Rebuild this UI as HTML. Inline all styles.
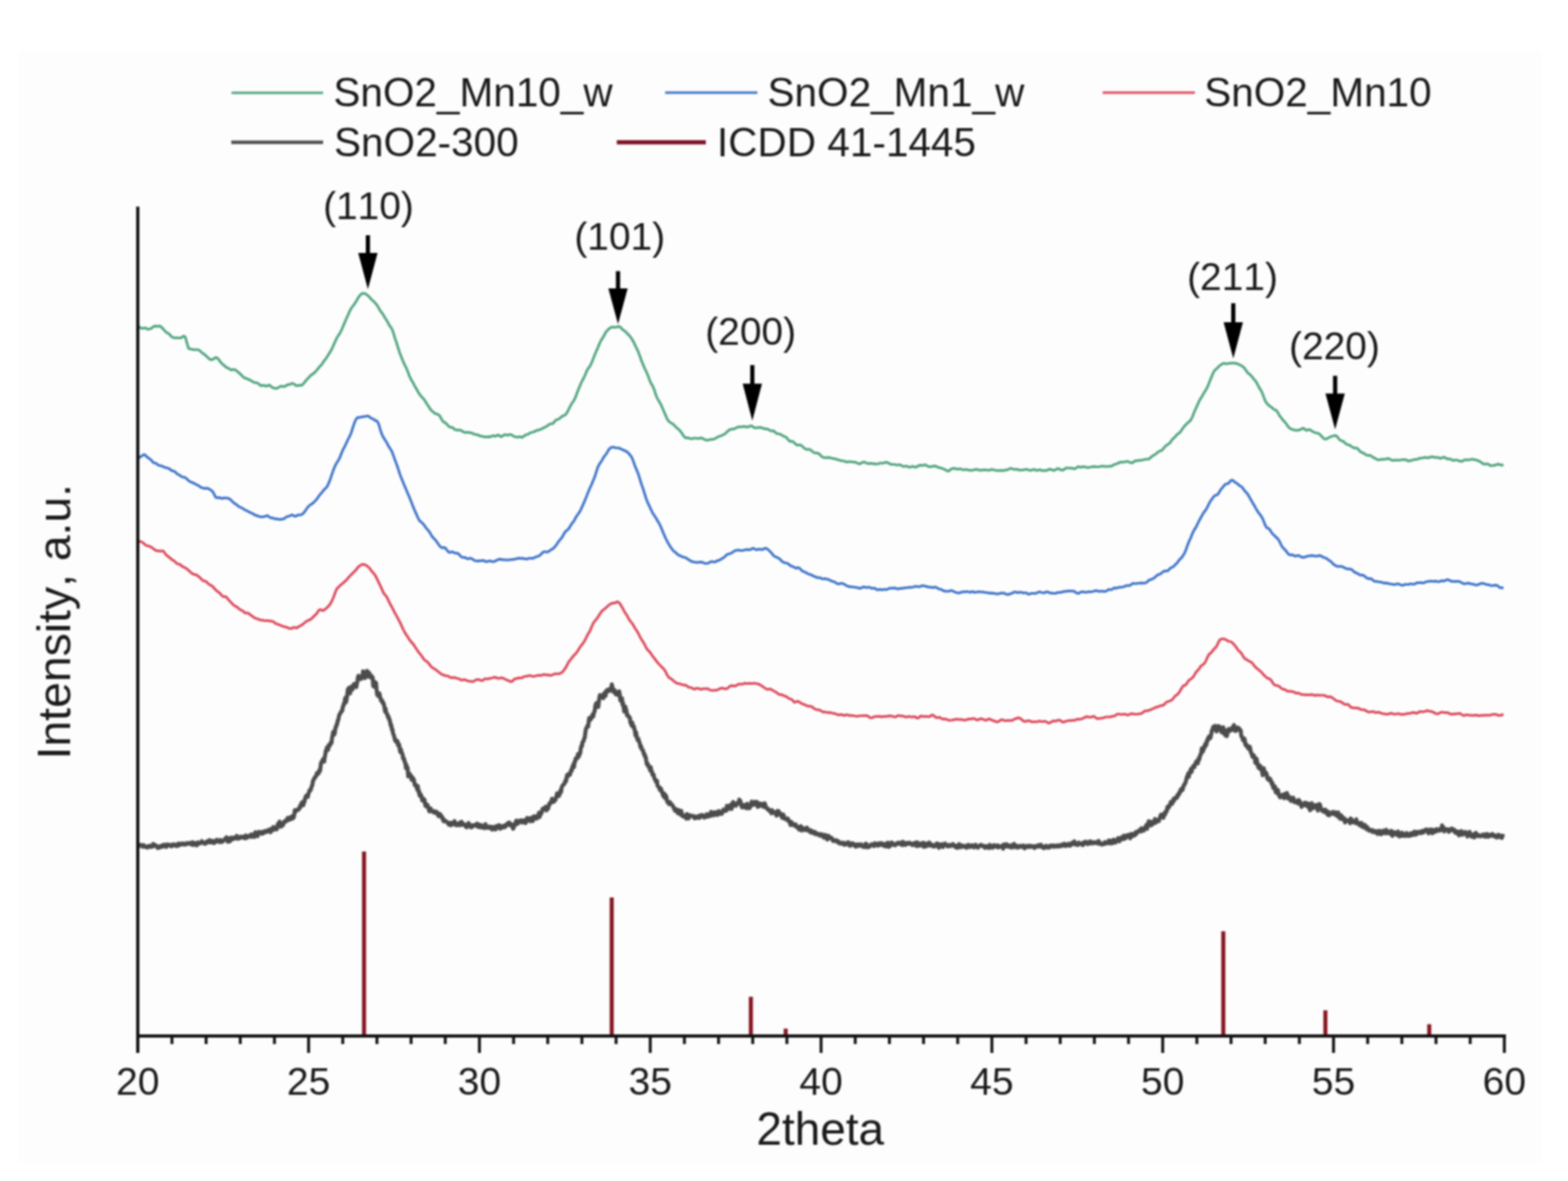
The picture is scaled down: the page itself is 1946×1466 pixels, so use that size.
<!DOCTYPE html>
<html><head><meta charset="utf-8"><title>XRD patterns SnO2</title>
<style>
html,body{margin:0;padding:0;background:#fff;}
svg{display:block;filter:blur(1px);}
.t{font-family:"Liberation Sans",Arial,sans-serif;fill:#1a1a1a;font-kerning:none;}
</style></head>
<body>
<svg width="1946" height="1466" viewBox="0 0 1946 1466">
<rect x="0" y="0" width="1946" height="1466" fill="#ffffff"/>
<rect x="23" y="65" width="1890" height="1379" fill="#fdfdfd"/>
<path d="M172.0 1048.7 L172.7 1048.7 L173.4 1049.9 L174.1 1049.4 L174.8 1049.8 L175.5 1048.8 L176.2 1049.9 L176.9 1051.0 L177.6 1049.7 L178.3 1049.1 L179.0 1050.1 L179.7 1050.4 L180.4 1051.5 L181.1 1051.1 L181.8 1051.7 L182.5 1051.9 L183.2 1050.6 L183.9 1051.8 L184.6 1050.7 L185.3 1050.8 L186.0 1049.8 L186.7 1050.7 L187.4 1050.1 L188.1 1051.3 L188.8 1050.9 L189.5 1049.7 L190.2 1047.6 L190.9 1048.6 L191.6 1049.9 L192.3 1050.2 L193.0 1049.1 L193.7 1050.2 L194.4 1050.1 L195.1 1050.9 L195.8 1052.7 L196.5 1051.6 L197.2 1051.7 L197.9 1052.1 L198.6 1050.4 L199.3 1051.3 L200.0 1051.4 L200.7 1050.9 L201.4 1049.4 L202.1 1049.7 L202.8 1050.5 L203.5 1048.5 L204.2 1050.0 L204.9 1049.2 L205.6 1048.8 L206.3 1051.3 L207.0 1050.8 L207.7 1048.2 L208.4 1048.8 L209.1 1048.7 L209.8 1048.8 L210.5 1049.5 L211.2 1049.4 L211.9 1049.9 L212.6 1050.7 L213.3 1048.5 L214.0 1049.4 L214.7 1048.6 L215.4 1049.5 L216.1 1048.2 L216.8 1048.9 L217.5 1048.7 L218.2 1049.6 L218.9 1050.1 L219.6 1048.3 L220.3 1048.6 L221.0 1049.8 L221.7 1047.0 L222.4 1048.7 L223.1 1048.6 L223.8 1048.7 L224.5 1048.2 L225.2 1047.3 L225.9 1047.7 L226.6 1047.0 L227.3 1048.1 L228.0 1047.8 L228.7 1048.2 L229.4 1048.5 L230.1 1047.3 L230.8 1046.8 L231.5 1047.5 L232.2 1047.8 L232.9 1046.5 L233.6 1047.1 L234.3 1046.9 L235.0 1047.1 L235.7 1046.7 L236.4 1046.1 L237.1 1048.3 L237.8 1047.4 L238.5 1048.3 L239.2 1045.5 L239.9 1048.9 L240.6 1046.7 L241.3 1046.5 L242.0 1047.5 L242.7 1047.0 L243.4 1047.7 L244.1 1049.4 L244.8 1046.1 L245.5 1045.6 L246.2 1047.0 L246.9 1047.3 L247.6 1047.2 L248.3 1046.3 L249.0 1046.5 L249.7 1046.0 L250.4 1044.1 L251.1 1045.4 L251.8 1046.1 L252.5 1045.8 L253.2 1047.0 L253.9 1046.1 L254.6 1047.5 L255.3 1046.4 L256.0 1046.0 L256.7 1044.6 L257.4 1046.0 L258.1 1044.2 L258.8 1045.4 L259.5 1045.5 L260.2 1042.9 L260.9 1045.2 L261.6 1043.6 L262.3 1045.8 L263.0 1044.1 L263.7 1045.7 L264.4 1045.4 L265.1 1043.8 L265.8 1046.5 L266.5 1046.0 L267.2 1044.6 L267.9 1043.7 L268.6 1043.5 L269.3 1042.5 L270.0 1044.3 L270.7 1043.7 L271.4 1045.0 L272.1 1044.1 L272.8 1044.2 L273.5 1042.7 L274.2 1045.4 L274.9 1043.5 L275.6 1044.7 L276.3 1044.7 L277.0 1043.5 L277.7 1043.0 L278.4 1042.1 L279.1 1042.2 L279.8 1042.2 L280.5 1039.9 L281.2 1039.4 L281.9 1040.5 L282.6 1044.9 L283.3 1042.4 L284.0 1042.4 L284.7 1043.3 L285.4 1044.3 L286.1 1039.9 L286.8 1041.0 L287.5 1040.5 L288.2 1039.8 L288.9 1041.8 L289.6 1040.6 L290.3 1040.3 L291.0 1039.6 L291.7 1040.8 L292.4 1039.5 L293.1 1039.4 L293.8 1037.5 L294.5 1038.5 L295.2 1041.1 L295.9 1039.8 L296.6 1039.9 L297.3 1040.6 L298.0 1039.3 L298.7 1038.6 L299.4 1039.4 L300.1 1039.4 L300.8 1039.3 L301.5 1038.7 L302.2 1039.9 L302.9 1040.2 L303.6 1040.6 L304.3 1038.6 L305.0 1037.2 L305.7 1039.4 L306.4 1040.1 L307.1 1037.9 L307.8 1038.5 L308.5 1038.1 L309.2 1038.1 L309.9 1038.1 L310.6 1036.5 L311.3 1038.9 L312.0 1035.8 L312.7 1037.2 L313.4 1036.8 L314.1 1037.0 L314.8 1038.9 L315.5 1039.0 L316.2 1034.9 L316.9 1033.1 L317.6 1035.2 L318.3 1033.9 L319.0 1036.9 L319.7 1037.9 L320.4 1034.1 L321.1 1032.6 L321.8 1034.3 L322.5 1033.4 L323.2 1033.9 L323.9 1034.7 L324.6 1034.8 L325.3 1032.6 L326.0 1034.8 L326.7 1033.4 L327.4 1032.8 L328.1 1033.4 L328.8 1031.5 L329.5 1031.9 L330.2 1031.5 L330.9 1032.8 L331.6 1031.4 L332.3 1030.5 L333.0 1030.8 L333.7 1030.2 L334.4 1031.5 L335.1 1032.0 L335.8 1033.0 L336.5 1028.9 L337.2 1031.3 L337.9 1030.1 L338.6 1028.5 L339.3 1026.5 L340.0 1028.3 L340.7 1029.8 L341.4 1028.1 L342.1 1027.2 L342.8 1027.4 L343.5 1029.3 L344.2 1026.0 L344.9 1022.7 L345.6 1023.1 L346.3 1021.7 L347.0 1019.8 L347.7 1023.3 L348.4 1026.3 L349.1 1026.0 L349.8 1024.8 L350.5 1024.6 L351.2 1024.3 L351.9 1021.7 L352.6 1020.0 L353.3 1019.7 L354.0 1019.0 L354.7 1019.8 L355.4 1019.2 L356.1 1018.3 L356.8 1015.6 L357.5 1016.3 L358.2 1015.1 L358.9 1017.8 L359.6 1015.7 L360.3 1017.0 L361.0 1016.2 L361.7 1013.6 L362.4 1015.3 L363.1 1016.0 L363.8 1013.1 L364.5 1014.9 L365.2 1011.2 L365.9 1005.8 L366.6 1007.7 L367.3 1006.7 L368.0 1006.2 L368.7 1005.1 L369.4 1005.5 L370.1 1004.8 L370.8 1004.9 L371.5 1003.2 L372.2 1000.7 L372.9 1002.0 L373.6 998.1 L374.3 997.0 L375.0 995.9 L375.7 999.0 L376.4 999.4 L377.1 996.0 L377.8 995.5 L378.5 991.2 L379.2 990.0 L379.9 987.8 L380.6 988.2 L381.3 987.4 L382.0 989.2 L382.7 985.3 L383.4 984.0 L384.1 981.1 L384.8 980.5 L385.5 980.8 L386.2 978.4 L386.9 976.0 L387.6 974.8 L388.3 969.8 L389.0 968.1 L389.7 967.4 L390.4 965.2 L391.1 965.3 L391.8 964.1 L392.5 962.5 L393.2 959.9 L393.9 961.5 L394.6 959.0 L395.3 960.2 L396.0 956.6 L396.7 957.8 L397.4 956.0 L398.1 949.3 L398.8 945.9 L399.5 945.5 L400.2 944.5 L400.9 942.3 L401.6 944.0 L402.3 945.4 L403.0 939.7 L403.7 936.9 L404.4 931.7 L405.1 932.0 L405.8 927.7 L406.5 927.8 L407.2 930.8 L407.9 925.0 L408.6 926.4 L409.3 925.6 L410.0 922.6 L410.7 921.5 L411.4 922.5 L412.1 916.0 L412.8 912.7 L413.5 908.6 L414.2 911.1 L414.9 911.8 L415.6 909.6 L416.3 903.1 L417.0 903.0 L417.7 899.3 L418.4 899.2 L419.1 894.6 L419.8 893.9 L420.5 889.8 L421.2 887.2 L421.9 886.2 L422.6 885.0 L423.3 883.4 L424.0 882.2 L424.7 882.4 L425.4 877.6 L426.1 876.3 L426.8 873.2 L427.5 873.7 L428.2 867.4 L428.9 865.8 L429.6 871.5 L430.3 866.8 L431.0 862.8 L431.7 855.7 L432.4 856.6 L433.1 853.7 L433.8 857.0 L434.5 860.7 L435.2 855.6 L435.9 852.5 L436.6 852.6 L437.3 856.1 L438.0 853.5 L438.7 849.7 L439.4 851.8 L440.1 848.7 L440.8 852.1 L441.5 851.1 L442.2 852.9 L442.9 848.3 L443.6 845.8 L444.3 840.2 L445.0 838.9 L445.7 840.7 L446.4 840.0 L447.1 839.7 L447.8 843.0 L448.5 839.6 L449.2 838.8 L449.9 840.6 L450.6 833.3 L451.3 838.9 L452.0 841.7 L452.7 841.8 L453.4 836.1 L454.1 837.8 L454.8 835.3 L455.5 832.7 L456.2 833.2 L456.9 840.0 L457.6 839.9 L458.3 835.1 L459.0 840.1 L459.7 838.0 L460.4 840.9 L461.1 838.9 L461.8 842.3 L462.5 840.9 L463.2 851.5 L463.9 846.4 L464.6 852.6 L465.3 846.5 L466.0 848.6 L466.7 847.6 L467.4 856.0 L468.1 862.4 L468.8 859.6 L469.5 864.2 L470.2 863.6 L470.9 860.7 L471.6 864.8 L472.3 867.0 L473.0 869.8 L473.7 868.8 L474.4 869.9 L475.1 873.0 L475.8 872.4 L476.5 874.6 L477.2 878.7 L477.9 883.0 L478.6 879.6 L479.3 885.3 L480.0 885.8 L480.7 886.4 L481.4 890.1 L482.1 889.2 L482.8 892.8 L483.5 893.0 L484.2 896.5 L484.9 900.6 L485.6 899.8 L486.3 905.5 L487.0 905.3 L487.7 909.7 L488.4 911.9 L489.1 913.5 L489.8 917.1 L490.5 919.3 L491.2 920.3 L491.9 918.7 L492.6 921.2 L493.3 919.9 L494.0 925.1 L494.7 923.4 L495.4 924.5 L496.1 930.0 L496.8 933.6 L497.5 930.0 L498.2 933.2 L498.9 934.8 L499.6 936.3 L500.3 941.8 L501.0 940.9 L501.7 942.9 L502.4 946.4 L503.1 946.8 L503.8 953.4 L504.5 949.7 L505.2 953.6 L505.9 953.1 L506.6 963.8 L507.3 960.1 L508.0 961.4 L508.7 960.7 L509.4 963.2 L510.1 963.1 L510.8 968.0 L511.5 964.7 L512.2 965.2 L512.9 967.4 L513.6 967.6 L514.3 972.2 L515.0 975.0 L515.7 973.8 L516.4 974.5 L517.1 976.6 L517.8 980.0 L518.5 975.6 L519.2 982.4 L519.9 981.4 L520.6 987.3 L521.3 984.8 L522.0 988.6 L522.7 987.1 L523.4 990.3 L524.1 993.7 L524.8 993.6 L525.5 991.3 L526.2 992.4 L526.9 993.0 L527.6 998.6 L528.3 1000.6 L529.0 1001.0 L529.7 1000.1 L530.4 998.9 L531.1 1001.0 L531.8 1003.1 L532.5 1006.2 L533.2 1007.2 L533.9 1003.5 L534.6 1003.7 L535.3 1006.2 L536.0 1006.4 L536.7 1006.7 L537.4 1007.8 L538.1 1007.0 L538.8 1008.6 L539.5 1007.1 L540.2 1008.9 L540.9 1008.3 L541.6 1009.0 L542.3 1008.0 L543.0 1010.8 L543.7 1011.2 L544.4 1013.2 L545.1 1011.7 L545.8 1010.3 L546.5 1011.7 L547.2 1011.7 L547.9 1013.4 L548.6 1015.4 L549.3 1014.8 L550.0 1018.3 L550.7 1019.4 L551.4 1018.3 L552.1 1018.2 L552.8 1019.1 L553.5 1019.6 L554.2 1020.3 L554.9 1020.6 L555.6 1021.5 L556.3 1021.8 L557.0 1023.7 L557.7 1022.8 L558.4 1021.3 L559.1 1022.0 L559.8 1024.4 L560.5 1021.5 L561.2 1023.4 L561.9 1022.8 L562.6 1022.7 L563.3 1021.2 L564.0 1019.2 L564.7 1021.1 L565.4 1023.7 L566.1 1024.4 L566.8 1024.2 L567.5 1022.5 L568.2 1024.0 L568.9 1024.4 L569.6 1023.4 L570.3 1023.0 L571.0 1020.7 L571.7 1024.3 L572.4 1023.6 L573.1 1020.1 L573.8 1023.5 L574.5 1022.7 L575.2 1023.2 L575.9 1023.3 L576.6 1024.6 L577.3 1023.6 L578.0 1025.8 L578.7 1026.8 L579.4 1026.9 L580.1 1024.0 L580.8 1023.9 L581.5 1021.6 L582.2 1022.8 L582.9 1025.3 L583.6 1026.1 L584.3 1025.8 L585.0 1027.1 L585.7 1024.6 L586.4 1026.0 L587.1 1025.6 L587.8 1024.4 L588.5 1024.9 L589.2 1024.1 L589.9 1024.1 L590.6 1024.4 L591.3 1023.3 L592.0 1022.5 L592.7 1026.2 L593.4 1024.2 L594.1 1025.5 L594.8 1023.7 L595.5 1027.0 L596.2 1026.2 L596.9 1025.0 L597.6 1024.4 L598.3 1026.2 L599.0 1027.3 L599.7 1025.5 L600.4 1025.5 L601.1 1026.3 L601.8 1027.9 L602.5 1023.0 L603.2 1026.3 L603.9 1026.4 L604.6 1026.4 L605.3 1027.6 L606.0 1027.4 L606.7 1026.1 L607.4 1027.2 L608.1 1027.9 L608.8 1026.2 L609.5 1026.5 L610.2 1027.3 L610.9 1029.8 L611.6 1026.6 L612.3 1027.4 L613.0 1027.5 L613.7 1028.5 L614.4 1026.7 L615.1 1029.7 L615.8 1025.6 L616.5 1026.5 L617.2 1025.4 L617.9 1027.2 L618.6 1026.5 L619.3 1024.3 L620.0 1025.2 L620.7 1028.7 L621.4 1026.3 L622.1 1025.3 L622.8 1027.3 L623.5 1026.5 L624.2 1027.0 L624.9 1025.6 L625.6 1026.9 L626.3 1024.5 L627.0 1026.6 L627.7 1024.4 L628.4 1023.6 L629.1 1023.5 L629.8 1022.0 L630.5 1023.8 L631.2 1023.4 L631.9 1021.0 L632.6 1022.3 L633.3 1022.2 L634.0 1024.9 L634.7 1023.0 L635.4 1024.2 L636.1 1025.5 L636.8 1028.7 L637.5 1027.6 L638.2 1025.4 L638.9 1023.1 L639.6 1022.2 L640.3 1019.5 L641.0 1018.7 L641.7 1023.0 L642.4 1022.5 L643.1 1021.8 L643.8 1019.1 L644.5 1020.6 L645.2 1020.2 L645.9 1018.4 L646.6 1018.3 L647.3 1020.6 L648.0 1020.9 L648.7 1018.9 L649.4 1019.9 L650.1 1018.3 L650.8 1019.9 L651.5 1018.8 L652.2 1021.7 L652.9 1019.5 L653.6 1016.8 L654.3 1015.4 L655.0 1016.3 L655.7 1018.6 L656.4 1016.4 L657.1 1015.7 L657.8 1015.9 L658.5 1019.4 L659.2 1017.2 L659.9 1015.1 L660.6 1017.3 L661.3 1019.2 L662.0 1016.0 L662.7 1013.2 L663.4 1014.4 L664.1 1014.0 L664.8 1015.3 L665.5 1013.7 L666.2 1016.2 L666.9 1014.7 L667.6 1012.1 L668.3 1012.6 L669.0 1008.8 L669.7 1014.3 L670.4 1011.1 L671.1 1011.0 L671.8 1009.6 L672.5 1007.9 L673.2 1004.4 L673.9 1005.3 L674.6 1003.3 L675.3 1004.4 L676.0 1004.0 L676.7 1004.4 L677.4 1001.4 L678.1 1006.1 L678.8 1003.4 L679.5 1003.0 L680.2 1003.8 L680.9 1001.0 L681.6 997.9 L682.3 998.4 L683.0 996.3 L683.7 995.5 L684.4 994.6 L685.1 991.5 L685.8 995.6 L686.5 994.0 L687.2 995.3 L687.9 994.2 L688.6 992.8 L689.3 993.0 L690.0 990.2 L690.7 988.0 L691.4 984.8 L692.1 986.0 L692.8 988.3 L693.5 988.2 L694.2 986.5 L694.9 985.5 L695.6 981.1 L696.3 983.3 L697.0 977.9 L697.7 976.1 L698.4 974.8 L699.1 974.1 L699.8 973.7 L700.5 973.0 L701.2 970.4 L701.9 968.6 L702.6 969.8 L703.3 964.1 L704.0 961.9 L704.7 963.8 L705.4 962.7 L706.1 960.4 L706.8 960.4 L707.5 961.6 L708.2 957.9 L708.9 955.8 L709.6 956.7 L710.3 952.1 L711.0 951.2 L711.7 948.6 L712.4 952.2 L713.1 945.4 L713.8 945.5 L714.5 941.4 L715.2 940.8 L715.9 940.5 L716.6 941.1 L717.3 936.0 L718.0 939.4 L718.7 938.3 L719.4 935.1 L720.1 935.0 L720.8 928.9 L721.5 926.1 L722.2 926.5 L722.9 921.2 L723.6 920.9 L724.3 919.8 L725.0 916.8 L725.7 915.8 L726.4 909.8 L727.1 905.0 L727.8 903.7 L728.5 902.5 L729.2 900.5 L729.9 901.9 L730.6 895.9 L731.3 891.2 L732.0 894.3 L732.7 892.4 L733.4 892.7 L734.1 889.8 L734.8 889.2 L735.5 886.8 L736.2 889.6 L736.9 885.2 L737.6 883.9 L738.3 881.1 L739.0 875.2 L739.7 873.7 L740.4 872.6 L741.1 874.4 L741.8 872.3 L742.5 877.6 L743.2 871.3 L743.9 865.8 L744.6 862.8 L745.3 866.1 L746.0 864.6 L746.7 863.6 L747.4 865.4 L748.1 864.7 L748.8 866.7 L749.5 861.3 L750.2 860.1 L750.9 859.7 L751.6 863.8 L752.3 857.7 L753.0 857.9 L753.7 856.4 L754.4 857.9 L755.1 856.0 L755.8 856.7 L756.5 857.7 L757.2 855.2 L757.9 854.2 L758.6 855.0 L759.3 849.6 L760.0 852.4 L760.7 855.9 L761.4 859.0 L762.1 857.9 L762.8 856.5 L763.5 859.2 L764.2 861.8 L764.9 861.4 L765.6 862.4 L766.3 862.3 L767.0 862.7 L767.7 858.5 L768.4 858.2 L769.1 861.5 L769.8 869.4 L770.5 866.2 L771.2 870.5 L771.9 866.8 L772.6 874.7 L773.3 872.9 L774.0 877.8 L774.7 883.2 L775.4 880.4 L776.1 877.3 L776.8 879.8 L777.5 882.5 L778.2 888.0 L778.9 887.9 L779.6 888.0 L780.3 890.0 L781.0 890.4 L781.7 890.9 L782.4 897.2 L783.1 897.0 L783.8 900.6 L784.5 896.6 L785.2 899.8 L785.9 902.7 L786.6 901.4 L787.3 904.7 L788.0 907.4 L788.7 912.9 L789.4 909.0 L790.1 914.0 L790.8 916.9 L791.5 918.9 L792.2 916.8 L792.9 920.1 L793.6 921.2 L794.3 924.3 L795.0 927.7 L795.7 926.3 L796.4 929.4 L797.1 931.0 L797.8 930.9 L798.5 933.6 L799.2 936.5 L799.9 936.0 L800.6 939.6 L801.3 939.3 L802.0 944.0 L802.7 948.3 L803.4 949.5 L804.1 948.2 L804.8 951.5 L805.5 952.5 L806.2 953.2 L806.9 956.4 L807.6 952.2 L808.3 956.9 L809.0 957.6 L809.7 961.6 L810.4 961.0 L811.1 961.1 L811.8 965.1 L812.5 966.7 L813.2 968.1 L813.9 969.8 L814.6 970.8 L815.3 969.0 L816.0 975.2 L816.7 975.8 L817.4 977.0 L818.1 977.2 L818.8 980.4 L819.5 978.1 L820.2 978.9 L820.9 980.9 L821.6 983.8 L822.3 983.7 L823.0 988.2 L823.7 986.1 L824.4 985.1 L825.1 990.5 L825.8 988.6 L826.5 987.6 L827.2 990.1 L827.9 994.3 L828.6 996.2 L829.3 995.4 L830.0 997.5 L830.7 998.3 L831.4 995.6 L832.1 997.5 L832.8 997.7 L833.5 998.2 L834.2 999.2 L834.9 999.9 L835.6 1001.9 L836.3 1003.2 L837.0 1004.3 L837.7 1006.3 L838.4 1003.9 L839.1 1006.6 L839.8 1007.6 L840.5 1007.5 L841.2 1009.4 L841.9 1005.4 L842.6 1007.4 L843.3 1007.0 L844.0 1009.9 L844.7 1011.3 L845.4 1006.5 L846.1 1009.7 L846.8 1012.1 L847.5 1013.5 L848.2 1012.6 L848.9 1012.4 L849.6 1012.8 L850.3 1014.3 L851.0 1013.4 L851.7 1016.1 L852.4 1010.5 L853.1 1014.8 L853.8 1011.2 L854.5 1016.1 L855.2 1013.0 L855.9 1012.4 L856.6 1012.1 L857.3 1012.8 L858.0 1012.6 L858.7 1012.9 L859.4 1013.4 L860.1 1013.7 L860.8 1014.0 L861.5 1013.2 L862.2 1015.8 L862.9 1015.2 L863.6 1014.3 L864.3 1015.2 L865.0 1014.9 L865.7 1013.4 L866.4 1014.7 L867.1 1015.2 L867.8 1015.4 L868.5 1012.2 L869.2 1014.0 L869.9 1012.9 L870.6 1013.6 L871.3 1011.7 L872.0 1012.1 L872.7 1012.5 L873.4 1013.3 L874.1 1014.9 L874.8 1013.2 L875.5 1014.1 L876.2 1013.8 L876.9 1010.8 L877.6 1010.9 L878.3 1013.8 L879.0 1013.0 L879.7 1011.5 L880.4 1010.5 L881.1 1010.0 L881.8 1012.9 L882.5 1007.8 L883.2 1011.2 L883.9 1009.7 L884.6 1011.9 L885.3 1011.4 L886.0 1011.9 L886.7 1008.3 L887.4 1008.9 L888.1 1010.9 L888.8 1008.3 L889.5 1008.0 L890.2 1011.6 L890.9 1009.1 L891.6 1011.0 L892.3 1006.8 L893.0 1009.1 L893.7 1009.0 L894.4 1008.8 L895.1 1009.2 L895.8 1010.2 L896.5 1008.0 L897.2 1007.0 L897.9 1004.8 L898.6 1005.9 L899.3 1005.5 L900.0 1006.7 L900.7 1004.8 L901.4 1006.2 L902.1 1000.3 L902.8 1003.1 L903.5 1004.5 L904.2 1003.4 L904.9 1002.7 L905.6 1002.8 L906.3 999.3 L907.0 1000.8 L907.7 1004.3 L908.4 1002.4 L909.1 997.2 L909.8 995.6 L910.5 996.4 L911.2 999.9 L911.9 999.0 L912.6 997.9 L913.3 1000.2 L914.0 999.1 L914.7 998.4 L915.4 996.8 L916.1 996.0 L916.8 996.5 L917.5 992.5 L918.2 996.8 L918.9 994.1 L919.6 997.8 L920.3 1000.9 L921.0 1002.2 L921.7 999.1 L922.4 1001.8 L923.1 1002.2 L923.8 999.2 L924.5 1000.2 L925.2 1001.6 L925.9 999.3 L926.6 1003.4 L927.3 997.8 L928.0 1000.1 L928.7 1001.9 L929.4 1003.0 L930.1 1003.3 L930.8 1002.3 L931.5 998.4 L932.2 1000.1 L932.9 995.0 L933.6 997.7 L934.3 996.5 L935.0 998.1 L935.7 998.9 L936.4 996.4 L937.1 995.3 L937.8 998.2 L938.5 996.5 L939.2 995.3 L939.9 1000.1 L940.6 1001.6 L941.3 996.8 L942.0 998.0 L942.7 1000.5 L943.4 997.9 L944.1 997.8 L944.8 997.6 L945.5 997.8 L946.2 999.3 L946.9 1000.7 L947.6 1001.6 L948.3 998.8 L949.0 997.1 L949.7 998.5 L950.4 1001.8 L951.1 1003.0 L951.8 1003.3 L952.5 1004.5 L953.2 1003.8 L953.9 1005.5 L954.6 1006.2 L955.3 1006.5 L956.0 1007.3 L956.7 1008.4 L957.4 1009.6 L958.1 1005.5 L958.8 1008.8 L959.5 1008.1 L960.2 1008.5 L960.9 1008.9 L961.6 1008.2 L962.3 1010.1 L963.0 1009.3 L963.7 1012.5 L964.4 1008.8 L965.1 1006.5 L965.8 1008.7 L966.5 1007.0 L967.2 1009.4 L967.9 1010.7 L968.6 1011.8 L969.3 1010.2 L970.0 1012.4 L970.7 1015.2 L971.4 1013.1 L972.1 1011.0 L972.8 1012.6 L973.5 1016.2 L974.2 1016.4 L974.9 1016.4 L975.6 1016.9 L976.3 1017.7 L977.0 1016.2 L977.7 1016.0 L978.4 1018.7 L979.1 1018.6 L979.8 1020.8 L980.5 1021.4 L981.2 1024.1 L981.9 1020.2 L982.6 1021.0 L983.3 1022.6 L984.0 1022.6 L984.7 1024.2 L985.4 1023.6 L986.1 1024.7 L986.8 1023.5 L987.5 1023.3 L988.2 1026.5 L988.9 1026.8 L989.6 1026.3 L990.3 1026.6 L991.0 1027.3 L991.7 1029.8 L992.4 1028.7 L993.1 1029.4 L993.8 1025.5 L994.5 1026.8 L995.2 1031.0 L995.9 1027.5 L996.6 1029.9 L997.3 1029.7 L998.0 1029.1 L998.7 1028.6 L999.4 1030.4 L1000.1 1029.5 L1000.8 1029.5 L1001.5 1027.3 L1002.2 1030.5 L1002.9 1029.4 L1003.6 1030.4 L1004.3 1031.6 L1005.0 1032.5 L1005.7 1032.6 L1006.4 1030.7 L1007.1 1033.7 L1007.8 1033.1 L1008.5 1033.6 L1009.2 1032.6 L1009.9 1032.3 L1010.6 1033.1 L1011.3 1035.1 L1012.0 1033.1 L1012.7 1034.2 L1013.4 1035.0 L1014.1 1035.9 L1014.8 1035.7 L1015.5 1035.0 L1016.2 1035.1 L1016.9 1036.3 L1017.6 1037.3 L1018.3 1036.8 L1019.0 1036.5 L1019.7 1035.5 L1020.4 1037.6 L1021.1 1037.0 L1021.8 1039.1 L1022.5 1039.8 L1023.2 1038.4 L1023.9 1036.4 L1024.6 1038.2 L1025.3 1038.1 L1026.0 1039.5 L1026.7 1042.2 L1027.4 1041.0 L1028.1 1037.4 L1028.8 1040.1 L1029.5 1040.5 L1030.2 1040.5 L1030.9 1039.8 L1031.6 1039.8 L1032.3 1040.4 L1033.0 1041.5 L1033.7 1043.8 L1034.4 1044.0 L1035.1 1043.4 L1035.8 1043.9 L1036.5 1043.3 L1037.2 1042.9 L1037.9 1043.9 L1038.6 1044.6 L1039.3 1043.7 L1040.0 1046.0 L1040.7 1044.8 L1041.4 1044.8 L1042.1 1046.4 L1042.8 1047.3 L1043.5 1046.2 L1044.2 1046.5 L1044.9 1046.4 L1045.6 1046.6 L1046.3 1045.9 L1047.0 1048.4 L1047.7 1048.6 L1048.4 1047.2 L1049.1 1047.4 L1049.8 1048.0 L1050.5 1046.3 L1051.2 1045.9 L1051.9 1047.8 L1052.6 1046.1 L1053.3 1045.6 L1054.0 1049.3 L1054.7 1049.8 L1055.4 1048.7 L1056.1 1049.2 L1056.8 1047.2 L1057.5 1046.8 L1058.2 1046.8 L1058.9 1048.6 L1059.6 1047.9 L1060.3 1049.1 L1061.0 1048.1 L1061.7 1050.9 L1062.4 1048.6 L1063.1 1050.6 L1063.8 1048.6 L1064.5 1048.1 L1065.2 1048.7 L1065.9 1049.7 L1066.6 1049.9 L1067.3 1048.6 L1068.0 1047.9 L1068.7 1047.9 L1069.4 1049.8 L1070.1 1049.5 L1070.8 1051.0 L1071.5 1050.4 L1072.2 1051.2 L1072.9 1051.5 L1073.6 1049.2 L1074.3 1047.2 L1075.0 1047.4 L1075.7 1048.2 L1076.4 1051.7 L1077.1 1050.4 L1077.8 1051.6 L1078.5 1050.5 L1079.2 1050.9 L1079.9 1050.2 L1080.6 1049.1 L1081.3 1048.2 L1082.0 1048.8 L1082.7 1048.5 L1083.4 1048.5 L1084.1 1047.9 L1084.8 1050.3 L1085.5 1046.8 L1086.2 1049.4 L1086.9 1047.3 L1087.6 1048.4 L1088.3 1049.1 L1089.0 1048.7 L1089.7 1049.7 L1090.4 1046.9 L1091.1 1048.6 L1091.8 1047.2 L1092.5 1048.7 L1093.2 1048.8 L1093.9 1046.5 L1094.6 1047.6 L1095.3 1048.5 L1096.0 1049.4 L1096.7 1048.3 L1097.4 1049.7 L1098.1 1047.6 L1098.8 1050.7 L1099.5 1050.4 L1100.2 1048.7 L1100.9 1047.4 L1101.6 1046.0 L1102.3 1048.8 L1103.0 1051.3 L1103.7 1049.8 L1104.4 1050.3 L1105.1 1049.0 L1105.8 1046.0 L1106.5 1048.2 L1107.2 1046.0 L1107.9 1048.2 L1108.6 1048.5 L1109.3 1048.8 L1110.0 1049.0 L1110.7 1049.3 L1111.4 1049.2 L1112.1 1047.4 L1112.8 1047.9 L1113.5 1046.5 L1114.2 1046.3 L1114.9 1046.0 L1115.6 1047.0 L1116.3 1046.1 L1117.0 1047.2 L1117.7 1046.4 L1118.4 1048.5 L1119.1 1048.6 L1119.8 1049.0 L1120.5 1044.9 L1121.2 1045.5 L1121.9 1048.6 L1122.6 1047.7 L1123.3 1047.5 L1124.0 1048.6 L1124.7 1047.2 L1125.4 1046.4 L1126.1 1046.2 L1126.8 1047.1 L1127.5 1047.5 L1128.2 1046.1 L1128.9 1046.0 L1129.6 1047.4 L1130.3 1047.4 L1131.0 1047.2 L1131.7 1048.3 L1132.4 1049.1 L1133.1 1047.3 L1133.8 1048.2 L1134.5 1048.3 L1135.2 1046.4 L1135.9 1046.0 L1136.6 1048.0 L1137.3 1050.2 L1138.0 1050.0 L1138.7 1045.6 L1139.4 1049.9 L1140.1 1046.8 L1140.8 1049.7 L1141.5 1049.3 L1142.2 1049.4 L1142.9 1048.8 L1143.6 1047.0 L1144.3 1048.8 L1145.0 1047.2 L1145.7 1046.1 L1146.4 1051.1 L1147.1 1049.9 L1147.8 1051.0 L1148.5 1047.0 L1149.2 1048.8 L1149.9 1049.3 L1150.6 1050.1 L1151.3 1048.2 L1152.0 1046.6 L1152.7 1047.0 L1153.4 1045.9 L1154.1 1047.0 L1154.8 1049.6 L1155.5 1048.3 L1156.2 1048.8 L1156.9 1048.6 L1157.6 1050.5 L1158.3 1049.8 L1159.0 1049.4 L1159.7 1050.8 L1160.4 1049.6 L1161.1 1048.9 L1161.8 1049.9 L1162.5 1047.0 L1163.2 1048.0 L1163.9 1047.6 L1164.6 1050.5 L1165.3 1052.3 L1166.0 1050.1 L1166.7 1050.1 L1167.4 1048.4 L1168.1 1047.9 L1168.8 1048.1 L1169.5 1050.3 L1170.2 1051.5 L1170.9 1049.3 L1171.6 1047.9 L1172.3 1048.3 L1173.0 1047.2 L1173.7 1048.4 L1174.4 1048.9 L1175.1 1049.5 L1175.8 1050.5 L1176.5 1049.5 L1177.2 1050.3 L1177.9 1049.0 L1178.6 1050.1 L1179.3 1049.0 L1180.0 1050.2 L1180.7 1049.2 L1181.4 1049.4 L1182.1 1049.4 L1182.8 1047.7 L1183.5 1049.0 L1184.2 1049.1 L1184.9 1050.5 L1185.6 1051.4 L1186.3 1051.5 L1187.0 1050.9 L1187.7 1052.4 L1188.4 1049.4 L1189.1 1051.3 L1189.8 1049.4 L1190.5 1047.8 L1191.2 1051.9 L1191.9 1051.6 L1192.6 1049.7 L1193.3 1050.4 L1194.0 1049.7 L1194.7 1050.8 L1195.4 1050.0 L1196.1 1050.9 L1196.8 1050.9 L1197.5 1050.5 L1198.2 1050.5 L1198.9 1049.8 L1199.6 1052.4 L1200.3 1050.0 L1201.0 1051.4 L1201.7 1048.7 L1202.4 1049.5 L1203.1 1051.2 L1203.8 1050.1 L1204.5 1051.4 L1205.2 1050.0 L1205.9 1049.2 L1206.6 1049.2 L1207.3 1050.7 L1208.0 1050.5 L1208.7 1051.9 L1209.4 1050.4 L1210.1 1049.4 L1210.8 1048.6 L1211.5 1050.3 L1212.2 1050.1 L1212.9 1051.7 L1213.6 1052.2 L1214.3 1050.8 L1215.0 1050.4 L1215.7 1050.2 L1216.4 1049.2 L1217.1 1048.8 L1217.8 1048.7 L1218.5 1049.7 L1219.2 1049.8 L1219.9 1050.8 L1220.6 1050.5 L1221.3 1050.0 L1222.0 1050.1 L1222.7 1052.4 L1223.4 1051.7 L1224.1 1052.0 L1224.8 1050.4 L1225.5 1051.2 L1226.2 1050.4 L1226.9 1050.9 L1227.6 1052.7 L1228.3 1048.8 L1229.0 1050.8 L1229.7 1050.2 L1230.4 1050.5 L1231.1 1051.1 L1231.8 1052.3 L1232.5 1049.8 L1233.2 1051.0 L1233.9 1049.1 L1234.6 1049.5 L1235.3 1050.0 L1236.0 1051.0 L1236.7 1051.2 L1237.4 1050.9 L1238.1 1049.3 L1238.8 1051.9 L1239.5 1051.4 L1240.2 1051.4 L1240.9 1050.7 L1241.6 1050.4 L1242.3 1050.9 L1243.0 1050.7 L1243.7 1049.8 L1244.4 1051.8 L1245.1 1053.4 L1245.8 1048.2 L1246.5 1050.4 L1247.2 1050.3 L1247.9 1050.5 L1248.6 1050.6 L1249.3 1047.9 L1250.0 1049.7 L1250.7 1051.0 L1251.4 1050.0 L1252.1 1049.6 L1252.8 1050.9 L1253.5 1050.6 L1254.2 1052.0 L1254.9 1049.4 L1255.6 1051.4 L1256.3 1050.3 L1257.0 1051.9 L1257.7 1050.2 L1258.4 1047.5 L1259.1 1049.8 L1259.8 1049.2 L1260.5 1050.3 L1261.2 1051.8 L1261.9 1050.1 L1262.6 1050.1 L1263.3 1052.1 L1264.0 1050.6 L1264.7 1051.3 L1265.4 1051.1 L1266.1 1050.0 L1266.8 1050.6 L1267.5 1051.1 L1268.2 1051.3 L1268.9 1050.4 L1269.6 1049.6 L1270.3 1049.7 L1271.0 1050.1 L1271.7 1053.1 L1272.4 1051.4 L1273.1 1050.6 L1273.8 1050.1 L1274.5 1051.1 L1275.2 1050.4 L1275.9 1050.3 L1276.6 1050.2 L1277.3 1051.4 L1278.0 1049.7 L1278.7 1050.2 L1279.4 1051.2 L1280.1 1050.3 L1280.8 1050.4 L1281.5 1050.7 L1282.2 1050.7 L1282.9 1050.4 L1283.6 1052.6 L1284.3 1051.7 L1285.0 1050.7 L1285.7 1051.6 L1286.4 1050.7 L1287.1 1049.9 L1287.8 1050.3 L1288.5 1050.5 L1289.2 1049.1 L1289.9 1050.9 L1290.6 1050.4 L1291.3 1049.7 L1292.0 1048.6 L1292.7 1050.4 L1293.4 1051.4 L1294.1 1052.0 L1294.8 1051.4 L1295.5 1052.8 L1296.2 1051.0 L1296.9 1050.9 L1297.6 1051.5 L1298.3 1049.8 L1299.0 1050.4 L1299.7 1052.1 L1300.4 1051.1 L1301.1 1050.9 L1301.8 1051.4 L1302.5 1052.1 L1303.2 1049.7 L1303.9 1050.6 L1304.6 1050.1 L1305.3 1049.4 L1306.0 1049.6 L1306.7 1049.9 L1307.4 1051.0 L1308.1 1049.6 L1308.8 1051.0 L1309.5 1050.9 L1310.2 1050.0 L1310.9 1049.8 L1311.6 1050.7 L1312.3 1049.7 L1313.0 1049.4 L1313.7 1050.7 L1314.4 1050.1 L1315.1 1050.5 L1315.8 1050.5 L1316.5 1049.1 L1317.2 1049.2 L1317.9 1050.0 L1318.6 1048.2 L1319.3 1049.1 L1320.0 1048.3 L1320.7 1048.6 L1321.4 1047.5 L1322.1 1050.2 L1322.8 1048.6 L1323.5 1049.9 L1324.2 1049.1 L1324.9 1048.0 L1325.6 1048.2 L1326.3 1047.4 L1327.0 1049.7 L1327.7 1047.7 L1328.4 1049.6 L1329.1 1048.8 L1329.8 1048.3 L1330.5 1046.1 L1331.2 1046.3 L1331.9 1046.6 L1332.6 1046.0 L1333.3 1044.4 L1334.0 1048.2 L1334.7 1046.6 L1335.4 1047.1 L1336.1 1047.7 L1336.8 1048.6 L1337.5 1048.9 L1338.2 1046.4 L1338.9 1045.8 L1339.6 1046.9 L1340.3 1046.9 L1341.0 1047.3 L1341.7 1048.0 L1342.4 1047.9 L1343.1 1048.4 L1343.8 1049.0 L1344.5 1045.9 L1345.2 1047.6 L1345.9 1046.0 L1346.6 1045.1 L1347.3 1047.0 L1348.0 1044.9 L1348.7 1045.8 L1349.4 1046.6 L1350.1 1047.9 L1350.8 1046.9 L1351.5 1046.3 L1352.2 1046.9 L1352.9 1044.4 L1353.6 1046.7 L1354.3 1044.9 L1355.0 1046.2 L1355.7 1047.0 L1356.4 1046.5 L1357.1 1045.8 L1357.8 1045.4 L1358.5 1045.4 L1359.2 1046.6 L1359.9 1046.1 L1360.6 1045.4 L1361.3 1045.5 L1362.0 1046.3 L1362.7 1047.0 L1363.4 1043.8 L1364.1 1047.3 L1364.8 1045.6 L1365.5 1046.7 L1366.2 1047.1 L1366.9 1048.2 L1367.6 1047.7 L1368.3 1048.3 L1369.0 1047.8 L1369.7 1047.2 L1370.4 1047.5 L1371.1 1045.4 L1371.8 1047.5 L1372.5 1045.9 L1373.2 1046.1 L1373.9 1046.0 L1374.6 1045.7 L1375.3 1046.5 L1376.0 1043.4 L1376.7 1046.7 L1377.4 1046.1 L1378.1 1046.6 L1378.8 1043.5 L1379.5 1046.0 L1380.2 1046.9 L1380.9 1045.5 L1381.6 1045.9 L1382.3 1042.2 L1383.0 1045.3 L1383.7 1044.2 L1384.4 1045.9 L1385.1 1043.3 L1385.8 1044.1 L1386.5 1042.2 L1387.2 1041.6 L1387.9 1040.3 L1388.6 1041.2 L1389.3 1044.4 L1390.0 1041.1 L1390.7 1041.2 L1391.4 1041.1 L1392.1 1039.3 L1392.8 1040.2 L1393.5 1041.8 L1394.2 1038.3 L1394.9 1037.4 L1395.6 1039.8 L1396.3 1041.0 L1397.0 1040.1 L1397.7 1039.4 L1398.4 1037.1 L1399.1 1038.8 L1399.8 1036.7 L1400.5 1036.3 L1401.2 1038.2 L1401.9 1037.2 L1402.6 1040.6 L1403.3 1037.6 L1404.0 1035.1 L1404.7 1035.9 L1405.4 1038.0 L1406.1 1037.5 L1406.8 1035.2 L1407.5 1037.1 L1408.2 1037.0 L1408.9 1035.0 L1409.6 1032.7 L1410.3 1035.1 L1411.0 1033.3 L1411.7 1032.8 L1412.4 1032.7 L1413.1 1031.6 L1413.8 1030.6 L1414.5 1030.9 L1415.2 1031.8 L1415.9 1032.1 L1416.6 1028.1 L1417.3 1030.1 L1418.0 1030.6 L1418.7 1030.2 L1419.4 1031.1 L1420.1 1028.4 L1420.8 1027.4 L1421.5 1027.9 L1422.2 1025.3 L1422.9 1023.8 L1423.6 1028.8 L1424.3 1024.3 L1425.0 1023.2 L1425.7 1019.4 L1426.4 1019.8 L1427.1 1021.2 L1427.8 1023.5 L1428.5 1024.5 L1429.2 1020.1 L1429.9 1023.6 L1430.6 1020.6 L1431.3 1020.5 L1432.0 1021.9 L1432.7 1019.4 L1433.4 1016.6 L1434.1 1021.4 L1434.8 1018.8 L1435.5 1020.0 L1436.2 1018.3 L1436.9 1019.4 L1437.6 1017.4 L1438.3 1019.1 L1439.0 1016.0 L1439.7 1015.1 L1440.4 1011.9 L1441.1 1011.2 L1441.8 1014.3 L1442.5 1012.4 L1443.2 1013.1 L1443.9 1015.1 L1444.6 1011.7 L1445.3 1009.0 L1446.0 1011.0 L1446.7 1007.3 L1447.4 1008.0 L1448.1 1006.8 L1448.8 1001.8 L1449.5 1001.1 L1450.2 1002.8 L1450.9 1001.7 L1451.6 999.3 L1452.3 999.2 L1453.0 995.6 L1453.7 997.6 L1454.4 998.0 L1455.1 996.5 L1455.8 995.7 L1456.5 991.4 L1457.2 993.6 L1457.9 991.7 L1458.6 990.6 L1459.3 989.8 L1460.0 989.3 L1460.7 990.3 L1461.4 986.9 L1462.1 987.3 L1462.8 987.0 L1463.5 983.9 L1464.2 984.4 L1464.9 981.4 L1465.6 979.7 L1466.3 981.5 L1467.0 979.7 L1467.7 980.6 L1468.4 976.4 L1469.1 975.9 L1469.8 973.4 L1470.5 973.4 L1471.2 971.5 L1471.9 969.2 L1472.6 966.5 L1473.3 963.7 L1474.0 964.0 L1474.7 960.0 L1475.4 964.3 L1476.1 959.1 L1476.8 959.9 L1477.5 955.8 L1478.2 954.4 L1478.9 958.2 L1479.6 953.7 L1480.3 952.3 L1481.0 950.7 L1481.7 950.9 L1482.4 952.2 L1483.1 948.3 L1483.8 947.9 L1484.5 945.4 L1485.2 947.1 L1485.9 946.7 L1486.6 947.5 L1487.3 941.8 L1488.0 943.4 L1488.7 941.4 L1489.4 937.4 L1490.1 936.9 L1490.8 934.6 L1491.5 929.1 L1492.2 933.6 L1492.9 932.7 L1493.6 930.7 L1494.3 926.8 L1495.0 928.2 L1495.7 923.5 L1496.4 923.5 L1497.1 924.9 L1497.8 919.4 L1498.5 920.3 L1499.2 916.5 L1499.9 915.4 L1500.6 914.1 L1501.3 913.8 L1502.0 916.4 L1502.7 913.8 L1503.4 910.4 L1504.1 906.5 L1504.8 906.3 L1505.5 902.6 L1506.2 903.6 L1506.9 902.7 L1507.6 901.1 L1508.3 901.4 L1509.0 901.4 L1509.7 908.0 L1510.4 907.5 L1511.1 904.1 L1511.8 901.2 L1512.5 904.0 L1513.2 901.7 L1513.9 902.8 L1514.6 905.9 L1515.3 906.5 L1516.0 908.9 L1516.7 905.6 L1517.4 909.5 L1518.1 902.8 L1518.8 906.3 L1519.5 906.3 L1520.2 912.2 L1520.9 910.4 L1521.6 910.9 L1522.3 913.8 L1523.0 912.8 L1523.7 905.9 L1524.4 906.8 L1525.1 904.8 L1525.8 907.5 L1526.5 907.3 L1527.2 906.6 L1527.9 905.7 L1528.6 905.2 L1529.3 903.0 L1530.0 905.5 L1530.7 906.1 L1531.4 900.0 L1532.1 903.6 L1532.8 903.6 L1533.5 907.5 L1534.2 904.0 L1534.9 906.0 L1535.6 903.0 L1536.3 905.9 L1537.0 905.5 L1537.7 903.9 L1538.4 906.5 L1539.1 906.6 L1539.8 906.6 L1540.5 913.4 L1541.2 914.6 L1541.9 915.8 L1542.6 918.7 L1543.3 919.3 L1544.0 916.5 L1544.7 917.6 L1545.4 923.5 L1546.1 925.2 L1546.8 924.0 L1547.5 925.5 L1548.2 927.1 L1548.9 928.7 L1549.6 926.5 L1550.3 929.9 L1551.0 926.9 L1551.7 929.6 L1552.4 934.1 L1553.1 934.7 L1553.8 937.3 L1554.5 939.5 L1555.2 939.8 L1555.9 937.3 L1556.6 939.9 L1557.3 940.0 L1558.0 947.0 L1558.7 944.4 L1559.4 941.7 L1560.1 945.1 L1560.8 949.4 L1561.5 951.5 L1562.2 953.3 L1562.9 953.9 L1563.6 950.1 L1564.3 953.3 L1565.0 952.2 L1565.7 957.0 L1566.4 957.2 L1567.1 962.3 L1567.8 957.3 L1568.5 953.8 L1569.2 957.4 L1569.9 960.6 L1570.6 959.0 L1571.3 959.3 L1572.0 961.0 L1572.7 965.7 L1573.4 967.3 L1574.1 967.6 L1574.8 968.4 L1575.5 966.1 L1576.2 966.8 L1576.9 968.0 L1577.6 970.3 L1578.3 973.0 L1579.0 971.5 L1579.7 975.9 L1580.4 978.3 L1581.1 975.5 L1581.8 978.0 L1582.5 976.6 L1583.2 983.3 L1583.9 983.9 L1584.6 983.2 L1585.3 980.4 L1586.0 980.6 L1586.7 985.7 L1587.4 987.6 L1588.1 987.8 L1588.8 989.8 L1589.5 987.1 L1590.2 987.5 L1590.9 987.5 L1591.6 988.2 L1592.3 986.4 L1593.0 990.1 L1593.7 990.8 L1594.4 985.7 L1595.1 985.4 L1595.8 987.0 L1596.5 986.6 L1597.2 984.4 L1597.9 990.7 L1598.6 988.9 L1599.3 988.1 L1600.0 991.9 L1600.7 989.7 L1601.4 991.2 L1602.1 994.2 L1602.8 993.3 L1603.5 991.1 L1604.2 992.6 L1604.9 990.1 L1605.6 992.3 L1606.3 995.7 L1607.0 995.7 L1607.7 995.4 L1608.4 995.1 L1609.1 994.2 L1609.8 996.5 L1610.5 994.1 L1611.2 997.4 L1611.9 993.0 L1612.6 994.9 L1613.3 994.7 L1614.0 997.5 L1614.7 999.8 L1615.4 1001.6 L1616.1 998.2 L1616.8 1000.1 L1617.5 998.5 L1618.2 998.5 L1618.9 996.8 L1619.6 999.2 L1620.3 996.4 L1621.0 999.5 L1621.7 1000.6 L1622.4 1000.5 L1623.1 998.6 L1623.8 997.5 L1624.5 1002.8 L1625.2 1000.6 L1625.9 1005.8 L1626.6 1003.1 L1627.3 1000.0 L1628.0 997.0 L1628.7 1000.6 L1629.4 1003.4 L1630.1 999.8 L1630.8 1000.0 L1631.5 1001.4 L1632.2 999.7 L1632.9 1002.0 L1633.6 999.3 L1634.3 1003.8 L1635.0 1001.4 L1635.7 1006.3 L1636.4 1000.4 L1637.1 998.1 L1637.8 998.4 L1638.5 999.9 L1639.2 1003.7 L1639.9 1004.4 L1640.6 1005.0 L1641.3 1006.9 L1642.0 1006.0 L1642.7 1005.3 L1643.4 1007.1 L1644.1 1008.2 L1644.8 1005.0 L1645.5 1007.0 L1646.2 1008.3 L1646.9 1008.5 L1647.6 1011.2 L1648.3 1007.4 L1649.0 1012.1 L1649.7 1012.0 L1650.4 1011.5 L1651.1 1009.9 L1651.8 1010.2 L1652.5 1009.7 L1653.2 1008.5 L1653.9 1007.8 L1654.6 1009.9 L1655.3 1009.8 L1656.0 1010.9 L1656.7 1008.1 L1657.4 1009.8 L1658.1 1009.5 L1658.8 1009.0 L1659.5 1013.2 L1660.2 1012.6 L1660.9 1008.5 L1661.6 1013.7 L1662.3 1012.4 L1663.0 1016.2 L1663.7 1016.3 L1664.4 1011.9 L1665.1 1013.1 L1665.8 1014.3 L1666.5 1017.1 L1667.2 1017.1 L1667.9 1018.1 L1668.6 1015.8 L1669.3 1020.9 L1670.0 1017.8 L1670.7 1018.0 L1671.4 1019.0 L1672.1 1019.0 L1672.8 1018.6 L1673.5 1018.3 L1674.2 1019.8 L1674.9 1020.0 L1675.6 1021.9 L1676.3 1016.1 L1677.0 1018.0 L1677.7 1017.5 L1678.4 1018.8 L1679.1 1019.4 L1679.8 1020.9 L1680.5 1020.9 L1681.2 1020.6 L1681.9 1020.6 L1682.6 1021.5 L1683.3 1017.0 L1684.0 1022.2 L1684.7 1020.9 L1685.4 1022.0 L1686.1 1022.6 L1686.8 1021.7 L1687.5 1024.5 L1688.2 1022.9 L1688.9 1023.9 L1689.6 1021.5 L1690.3 1026.1 L1691.0 1026.0 L1691.7 1026.8 L1692.4 1025.5 L1693.1 1025.4 L1693.8 1023.8 L1694.5 1027.1 L1695.2 1028.3 L1695.9 1029.2 L1696.6 1026.5 L1697.3 1029.0 L1698.0 1028.5 L1698.7 1030.8 L1699.4 1031.3 L1700.1 1030.9 L1700.8 1030.2 L1701.5 1030.3 L1702.2 1030.8 L1702.9 1030.3 L1703.6 1032.9 L1704.3 1031.0 L1705.0 1032.5 L1705.7 1031.8 L1706.4 1032.3 L1707.1 1033.4 L1707.8 1031.7 L1708.5 1032.7 L1709.2 1032.6 L1709.9 1035.3 L1710.6 1031.7 L1711.3 1031.5 L1712.0 1031.2 L1712.7 1031.9 L1713.4 1033.3 L1714.1 1035.6 L1714.8 1032.1 L1715.5 1034.6 L1716.2 1033.5 L1716.9 1031.1 L1717.6 1032.0 L1718.3 1031.5 L1719.0 1031.3 L1719.7 1034.5 L1720.4 1030.0 L1721.1 1032.4 L1721.8 1033.0 L1722.5 1032.2 L1723.2 1034.1 L1723.9 1034.7 L1724.6 1033.1 L1725.3 1032.3 L1726.0 1032.8 L1726.7 1031.4 L1727.4 1036.7 L1728.1 1037.4 L1728.8 1035.7 L1729.5 1034.6 L1730.2 1032.9 L1730.9 1033.7 L1731.6 1034.1 L1732.3 1034.3 L1733.0 1036.2 L1733.7 1034.1 L1734.4 1034.0 L1735.1 1032.2 L1735.8 1034.8 L1736.5 1038.2 L1737.2 1037.9 L1737.9 1037.4 L1738.6 1037.6 L1739.3 1034.4 L1740.0 1033.7 L1740.7 1034.3 L1741.4 1036.2 L1742.1 1037.6 L1742.8 1037.0 L1743.5 1036.3 L1744.2 1037.1 L1744.9 1037.6 L1745.6 1034.0 L1746.3 1036.2 L1747.0 1036.7 L1747.7 1036.2 L1748.4 1037.7 L1749.1 1037.6 L1749.8 1037.6 L1750.5 1034.5 L1751.2 1035.8 L1751.9 1034.2 L1752.6 1034.1 L1753.3 1036.5 L1754.0 1035.6 L1754.7 1033.4 L1755.4 1032.5 L1756.1 1034.3 L1756.8 1036.2 L1757.5 1035.5 L1758.2 1032.9 L1758.9 1034.9 L1759.6 1032.6 L1760.3 1033.2 L1761.0 1032.7 L1761.7 1032.9 L1762.4 1032.9 L1763.1 1034.2 L1763.8 1032.1 L1764.5 1031.6 L1765.2 1033.7 L1765.9 1032.5 L1766.6 1033.4 L1767.3 1031.0 L1768.0 1030.9 L1768.7 1030.4 L1769.4 1030.1 L1770.1 1029.5 L1770.8 1030.0 L1771.5 1032.4 L1772.2 1033.2 L1772.9 1034.3 L1773.6 1029.9 L1774.3 1031.4 L1775.0 1030.3 L1775.7 1030.4 L1776.4 1029.7 L1777.1 1031.2 L1777.8 1034.4 L1778.5 1033.1 L1779.2 1030.3 L1779.9 1032.3 L1780.6 1032.4 L1781.3 1030.8 L1782.0 1032.3 L1782.7 1029.2 L1783.4 1031.1 L1784.1 1030.4 L1784.8 1030.7 L1785.5 1031.1 L1786.2 1029.4 L1786.9 1029.8 L1787.6 1030.8 L1788.3 1030.4 L1789.0 1029.9 L1789.7 1024.5 L1790.4 1028.8 L1791.1 1026.7 L1791.8 1031.0 L1792.5 1032.0 L1793.2 1030.2 L1793.9 1029.2 L1794.6 1029.9 L1795.3 1030.0 L1796.0 1029.3 L1796.7 1029.5 L1797.4 1030.1 L1798.1 1032.7 L1798.8 1030.8 L1799.5 1031.2 L1800.2 1029.3 L1800.9 1029.2 L1801.6 1028.5 L1802.3 1029.9 L1803.0 1030.4 L1803.7 1031.0 L1804.4 1029.7 L1805.1 1030.6 L1805.8 1033.4 L1806.5 1031.5 L1807.2 1032.5 L1807.9 1034.2 L1808.6 1033.6 L1809.3 1032.3 L1810.0 1032.9 L1810.7 1037.0 L1811.4 1034.6 L1812.1 1033.7 L1812.8 1032.2 L1813.5 1031.6 L1814.2 1032.2 L1814.9 1036.2 L1815.6 1035.3 L1816.3 1035.2 L1817.0 1033.2 L1817.7 1033.7 L1818.4 1034.4 L1819.1 1032.7 L1819.8 1035.9 L1820.5 1036.9 L1821.2 1038.3 L1821.9 1036.8 L1822.6 1034.5 L1823.3 1035.9 L1824.0 1032.6 L1824.7 1036.7 L1825.4 1036.7 L1826.1 1038.4 L1826.8 1037.4 L1827.5 1036.6 L1828.2 1036.0 L1828.9 1036.9 L1829.6 1039.5 L1830.3 1035.2 L1831.0 1035.4 L1831.7 1033.8 L1832.4 1037.7 L1833.1 1037.3 L1833.8 1037.3 L1834.5 1036.7 L1835.2 1037.9 L1835.9 1037.1 L1836.6 1037.4 L1837.3 1038.1 L1838.0 1038.3 L1838.7 1036.8 L1839.4 1037.3 L1840.1 1036.2 L1840.8 1035.9 L1841.5 1036.8 L1842.2 1037.8 L1842.9 1038.7 L1843.6 1036.1 L1844.3 1035.6 L1845.0 1035.2 L1845.7 1035.7 L1846.4 1038.6 L1847.1 1035.9 L1847.8 1038.5 L1848.5 1037.9 L1849.2 1036.5 L1849.9 1036.4 L1850.6 1036.6 L1851.3 1036.8 L1852.0 1035.2 L1852.7 1037.6 L1853.4 1036.0 L1854.1 1037.9 L1854.8 1038.0 L1855.5 1038.6 L1856.2 1037.4 L1856.9 1039.0 L1857.6 1039.7 L1858.3 1039.3 L1859.0 1037.0 L1859.7 1036.1 L1860.4 1037.9 L1861.1 1039.0 L1861.8 1038.8 L1862.5 1037.5 L1863.2 1039.0 L1863.9 1040.2 L1864.6 1037.4 L1865.3 1037.6 L1866.0 1038.6" fill="none" stroke="#4c4c4c" stroke-width="5.0" stroke-linejoin="round"/>
<path d="M172.0 671.4 L174.0 672.3 L176.0 672.8 L178.0 674.0 L180.0 676.2 L182.0 677.3 L184.0 677.8 L186.0 678.4 L188.0 679.5 L190.0 680.8 L192.0 682.4 L194.0 683.6 L196.0 683.5 L198.0 684.1 L200.0 684.1 L202.0 683.7 L204.0 685.6 L206.0 688.6 L208.0 690.3 L210.0 691.6 L212.0 693.6 L214.0 695.1 L216.0 696.0 L218.0 698.1 L220.0 699.9 L222.0 700.2 L224.0 701.0 L226.0 703.0 L228.0 704.1 L230.0 704.9 L232.0 706.3 L234.0 707.9 L236.0 709.9 L238.0 711.6 L240.0 712.8 L242.0 713.4 L244.0 713.7 L246.0 715.3 L248.0 717.0 L250.0 718.9 L252.0 720.9 L254.0 721.2 L256.0 721.9 L258.0 724.2 L260.0 725.7 L262.0 726.6 L264.0 728.1 L266.0 730.4 L268.0 732.6 L270.0 734.2 L272.0 735.6 L274.0 737.7 L276.0 740.0 L278.0 740.6 L280.0 740.5 L282.0 742.4 L284.0 744.9 L286.0 747.0 L288.0 749.2 L290.0 751.2 L292.0 752.5 L294.0 753.4 L296.0 755.2 L298.0 756.9 L300.0 757.5 L302.0 759.0 L304.0 760.9 L306.0 760.9 L308.0 761.0 L310.0 762.7 L312.0 764.1 L314.0 765.5 L316.0 767.1 L318.0 767.8 L320.0 768.3 L322.0 769.3 L324.0 769.8 L326.0 769.9 L328.0 770.3 L330.0 770.5 L332.0 770.4 L334.0 770.7 L336.0 771.1 L338.0 771.1 L340.0 772.1 L342.0 774.0 L344.0 774.8 L346.0 775.3 L348.0 776.2 L350.0 777.0 L352.0 777.7 L354.0 778.1 L356.0 778.8 L358.0 779.7 L360.0 780.2 L362.0 780.1 L364.0 779.0 L366.0 778.9 L368.0 779.5 L370.0 778.5 L372.0 777.1 L374.0 776.1 L376.0 774.8 L378.0 773.1 L380.0 771.4 L382.0 770.4 L384.0 769.6 L386.0 768.5 L388.0 766.6 L390.0 764.4 L392.0 762.9 L394.0 760.2 L396.0 757.1 L398.0 756.7 L400.0 757.9 L402.0 757.4 L404.0 755.8 L406.0 754.2 L408.0 752.2 L410.0 749.5 L412.0 745.7 L414.0 741.3 L416.0 735.6 L418.0 730.8 L420.0 729.0 L422.0 726.9 L424.0 725.1 L426.0 723.7 L428.0 721.7 L430.0 719.9 L432.0 717.5 L434.0 715.2 L436.0 713.3 L438.0 711.2 L440.0 709.4 L442.0 707.2 L444.0 704.5 L446.0 702.8 L448.0 701.3 L450.0 700.5 L452.0 700.7 L454.0 701.6 L456.0 702.9 L458.0 704.6 L460.0 707.2 L462.0 709.8 L464.0 711.8 L466.0 714.8 L468.0 718.8 L470.0 723.0 L472.0 726.9 L474.0 731.5 L476.0 736.0 L478.0 738.6 L480.0 741.0 L482.0 745.2 L484.0 749.4 L486.0 752.9 L488.0 756.8 L490.0 760.8 L492.0 764.3 L494.0 767.9 L496.0 771.8 L498.0 776.0 L500.0 780.4 L502.0 784.4 L504.0 787.6 L506.0 790.5 L508.0 793.8 L510.0 796.5 L512.0 798.5 L514.0 801.2 L516.0 804.4 L518.0 807.4 L520.0 810.2 L522.0 812.6 L524.0 815.2 L526.0 818.3 L528.0 820.2 L530.0 821.4 L532.0 823.4 L534.0 825.9 L536.0 828.4 L538.0 829.6 L540.0 830.7 L542.0 832.4 L544.0 833.8 L546.0 835.4 L548.0 837.1 L550.0 837.8 L552.0 838.6 L554.0 839.0 L556.0 839.2 L558.0 840.5 L560.0 841.4 L562.0 841.1 L564.0 841.0 L566.0 841.8 L568.0 842.2 L570.0 842.8 L572.0 844.2 L574.0 844.1 L576.0 843.5 L578.0 844.1 L580.0 845.1 L582.0 845.5 L584.0 845.7 L586.0 846.1 L588.0 845.7 L590.0 844.2 L592.0 843.6 L594.0 843.6 L596.0 844.3 L598.0 845.0 L600.0 844.0 L602.0 842.6 L604.0 842.6 L606.0 842.8 L608.0 842.1 L610.0 841.7 L612.0 841.2 L614.0 840.6 L616.0 841.4 L618.0 842.0 L620.0 841.8 L622.0 841.4 L624.0 841.6 L626.0 842.6 L628.0 843.7 L630.0 844.4 L632.0 845.3 L634.0 846.3 L636.0 845.6 L638.0 843.3 L640.0 842.4 L642.0 842.2 L644.0 841.4 L646.0 841.6 L648.0 841.4 L650.0 840.0 L652.0 839.5 L654.0 839.4 L656.0 838.8 L658.0 838.5 L660.0 839.2 L662.0 839.7 L664.0 839.2 L666.0 838.7 L668.0 838.2 L670.0 838.3 L672.0 838.5 L674.0 837.3 L676.0 837.4 L678.0 838.0 L680.0 837.6 L682.0 838.3 L684.0 838.4 L686.0 837.4 L688.0 836.7 L690.0 836.4 L692.0 836.5 L694.0 836.3 L696.0 835.6 L698.0 834.2 L700.0 831.8 L702.0 829.0 L704.0 825.2 L706.0 821.3 L708.0 819.0 L710.0 816.4 L712.0 813.7 L714.0 811.9 L716.0 809.5 L718.0 806.3 L720.0 803.1 L722.0 800.6 L724.0 798.0 L726.0 794.7 L728.0 790.6 L730.0 786.7 L732.0 783.6 L734.0 779.0 L736.0 774.1 L738.0 771.1 L740.0 768.9 L742.0 766.2 L744.0 762.9 L746.0 759.8 L748.0 757.6 L750.0 756.2 L752.0 754.6 L754.0 752.7 L756.0 750.8 L758.0 749.5 L760.0 748.7 L762.0 748.6 L764.0 748.1 L766.0 746.9 L768.0 747.8 L770.0 750.3 L772.0 753.6 L774.0 757.5 L776.0 760.8 L778.0 763.8 L780.0 767.6 L782.0 770.8 L784.0 773.0 L786.0 776.1 L788.0 779.7 L790.0 782.7 L792.0 785.9 L794.0 789.9 L796.0 793.6 L798.0 796.5 L800.0 799.9 L802.0 804.1 L804.0 807.1 L806.0 808.7 L808.0 811.5 L810.0 814.6 L812.0 817.0 L814.0 819.7 L816.0 822.3 L818.0 824.5 L820.0 826.6 L822.0 828.6 L824.0 830.6 L826.0 833.7 L828.0 837.9 L830.0 840.8 L832.0 842.1 L834.0 843.4 L836.0 845.2 L838.0 846.9 L840.0 848.1 L842.0 848.5 L844.0 848.9 L846.0 849.8 L848.0 850.3 L850.0 850.3 L852.0 851.1 L854.0 852.8 L856.0 853.4 L858.0 853.5 L860.0 855.0 L862.0 855.5 L864.0 854.5 L866.0 854.3 L868.0 855.1 L870.0 855.7 L872.0 855.1 L874.0 854.9 L876.0 855.0 L878.0 854.7 L880.0 855.8 L882.0 857.0 L884.0 857.0 L886.0 856.9 L888.0 856.9 L890.0 856.5 L892.0 855.6 L894.0 854.5 L896.0 854.2 L898.0 854.5 L900.0 855.1 L902.0 854.9 L904.0 853.5 L906.0 851.8 L908.0 851.1 L910.0 851.4 L912.0 851.7 L914.0 850.9 L916.0 849.5 L918.0 849.0 L920.0 849.3 L922.0 849.0 L924.0 848.2 L926.0 848.4 L928.0 848.5 L930.0 848.2 L932.0 848.5 L934.0 848.4 L936.0 848.0 L938.0 848.5 L940.0 848.8 L942.0 849.4 L944.0 850.5 L946.0 851.8 L948.0 853.3 L950.0 854.5 L952.0 855.7 L954.0 855.6 L956.0 855.2 L958.0 856.3 L960.0 857.5 L962.0 858.7 L964.0 859.8 L966.0 861.4 L968.0 862.4 L970.0 862.3 L972.0 863.3 L974.0 864.1 L976.0 864.6 L978.0 866.3 L980.0 867.5 L982.0 867.8 L984.0 869.6 L986.0 871.8 L988.0 871.2 L990.0 870.3 L992.0 871.4 L994.0 872.8 L996.0 873.9 L998.0 874.5 L1000.0 875.3 L1002.0 876.4 L1004.0 876.7 L1006.0 876.7 L1008.0 877.6 L1010.0 879.1 L1012.0 880.5 L1014.0 881.0 L1016.0 881.1 L1018.0 881.7 L1020.0 883.1 L1022.0 884.0 L1024.0 883.7 L1026.0 884.2 L1028.0 884.6 L1030.0 884.4 L1032.0 885.0 L1034.0 885.4 L1036.0 885.6 L1038.0 886.5 L1040.0 887.4 L1042.0 887.4 L1044.0 886.9 L1046.0 887.6 L1048.0 888.2 L1050.0 887.3 L1052.0 887.4 L1054.0 888.2 L1056.0 888.2 L1058.0 888.3 L1060.0 888.5 L1062.0 889.0 L1064.0 889.2 L1066.0 888.7 L1068.0 888.5 L1070.0 888.5 L1072.0 888.4 L1074.0 888.3 L1076.0 888.4 L1078.0 889.6 L1080.0 890.9 L1082.0 891.1 L1084.0 890.1 L1086.0 889.4 L1088.0 889.5 L1090.0 889.1 L1092.0 889.4 L1094.0 889.9 L1096.0 889.3 L1098.0 889.4 L1100.0 889.5 L1102.0 888.8 L1104.0 888.6 L1106.0 888.9 L1108.0 889.3 L1110.0 890.0 L1112.0 889.8 L1114.0 888.4 L1116.0 888.3 L1118.0 888.8 L1120.0 888.7 L1122.0 889.2 L1124.0 890.1 L1126.0 889.9 L1128.0 889.2 L1130.0 889.8 L1132.0 890.2 L1134.0 889.5 L1136.0 889.9 L1138.0 891.4 L1140.0 891.1 L1142.0 889.1 L1144.0 888.9 L1146.0 889.5 L1148.0 889.3 L1150.0 889.3 L1152.0 889.8 L1154.0 889.4 L1156.0 887.9 L1158.0 887.6 L1160.0 889.3 L1162.0 890.9 L1164.0 890.7 L1166.0 890.4 L1168.0 891.7 L1170.0 892.6 L1172.0 892.4 L1174.0 892.6 L1176.0 893.5 L1178.0 894.2 L1180.0 894.0 L1182.0 893.8 L1184.0 893.4 L1186.0 892.8 L1188.0 892.7 L1190.0 893.1 L1192.0 893.1 L1194.0 893.2 L1196.0 893.8 L1198.0 893.9 L1200.0 893.2 L1202.0 892.4 L1204.0 892.6 L1206.0 892.4 L1208.0 891.8 L1210.0 892.4 L1212.0 893.6 L1214.0 893.6 L1216.0 892.4 L1218.0 892.2 L1220.0 892.8 L1222.0 893.7 L1224.0 894.1 L1226.0 892.9 L1228.0 892.4 L1230.0 893.5 L1232.0 894.4 L1234.0 894.9 L1236.0 895.9 L1238.0 896.2 L1240.0 895.1 L1242.0 893.7 L1244.0 893.4 L1246.0 894.3 L1248.0 894.7 L1250.0 894.4 L1252.0 894.4 L1254.0 894.3 L1256.0 894.3 L1258.0 893.4 L1260.0 892.1 L1262.0 891.6 L1264.0 891.1 L1266.0 891.5 L1268.0 893.2 L1270.0 895.0 L1272.0 895.7 L1274.0 895.1 L1276.0 894.5 L1278.0 894.9 L1280.0 896.0 L1282.0 896.1 L1284.0 895.7 L1286.0 896.1 L1288.0 895.7 L1290.0 894.9 L1292.0 895.6 L1294.0 895.8 L1296.0 895.3 L1298.0 895.7 L1300.0 897.0 L1302.0 897.6 L1304.0 896.8 L1306.0 895.1 L1308.0 894.9 L1310.0 895.3 L1312.0 894.5 L1314.0 893.8 L1316.0 894.3 L1318.0 896.0 L1320.0 896.4 L1322.0 895.6 L1324.0 895.0 L1326.0 894.5 L1328.0 894.4 L1330.0 894.4 L1332.0 894.2 L1334.0 894.1 L1336.0 893.1 L1338.0 892.6 L1340.0 893.0 L1342.0 892.5 L1344.0 891.8 L1346.0 890.5 L1348.0 889.6 L1350.0 889.9 L1352.0 890.2 L1354.0 890.3 L1356.0 889.4 L1358.0 889.3 L1360.0 891.1 L1362.0 892.1 L1364.0 891.8 L1366.0 891.5 L1368.0 891.5 L1370.0 890.8 L1372.0 890.2 L1374.0 890.0 L1376.0 890.0 L1378.0 889.9 L1380.0 889.2 L1382.0 889.1 L1384.0 888.4 L1386.0 886.7 L1388.0 886.3 L1390.0 886.7 L1392.0 887.0 L1394.0 886.7 L1396.0 886.3 L1398.0 887.2 L1400.0 887.7 L1402.0 886.6 L1404.0 885.9 L1406.0 886.1 L1408.0 886.4 L1410.0 886.5 L1412.0 886.5 L1414.0 886.1 L1416.0 885.8 L1418.0 884.9 L1420.0 883.0 L1422.0 882.4 L1424.0 882.5 L1426.0 881.6 L1428.0 881.0 L1430.0 880.1 L1432.0 879.2 L1434.0 878.3 L1436.0 877.6 L1438.0 877.1 L1440.0 876.1 L1442.0 875.6 L1444.0 875.3 L1446.0 873.2 L1448.0 871.3 L1450.0 870.8 L1452.0 870.1 L1454.0 869.1 L1456.0 867.1 L1458.0 864.4 L1460.0 863.0 L1462.0 861.3 L1464.0 858.6 L1466.0 855.1 L1468.0 851.7 L1470.0 850.8 L1472.0 849.8 L1474.0 846.5 L1476.0 844.1 L1478.0 842.8 L1480.0 841.3 L1482.0 838.6 L1484.0 834.9 L1486.0 832.7 L1488.0 830.7 L1490.0 827.4 L1492.0 825.5 L1494.0 824.3 L1496.0 821.6 L1498.0 817.2 L1500.0 813.0 L1502.0 811.0 L1504.0 809.3 L1506.0 806.5 L1508.0 804.3 L1510.0 802.1 L1512.0 797.6 L1514.0 794.1 L1516.0 793.1 L1518.0 793.0 L1520.0 793.3 L1522.0 794.4 L1524.0 795.8 L1526.0 796.3 L1528.0 796.7 L1530.0 798.4 L1532.0 800.7 L1534.0 803.1 L1536.0 806.2 L1538.0 808.5 L1540.0 810.1 L1542.0 813.2 L1544.0 816.6 L1546.0 818.2 L1548.0 819.2 L1550.0 820.6 L1552.0 821.5 L1554.0 822.9 L1556.0 825.6 L1558.0 828.0 L1560.0 829.7 L1562.0 831.4 L1564.0 833.1 L1566.0 834.9 L1568.0 837.3 L1570.0 839.4 L1572.0 841.1 L1574.0 842.3 L1576.0 842.9 L1578.0 844.9 L1580.0 848.4 L1582.0 850.3 L1584.0 850.9 L1586.0 851.3 L1588.0 852.3 L1590.0 854.3 L1592.0 855.4 L1594.0 855.6 L1596.0 856.9 L1598.0 858.1 L1600.0 858.1 L1602.0 858.1 L1604.0 858.5 L1606.0 859.1 L1608.0 860.3 L1610.0 860.4 L1612.0 860.3 L1614.0 861.7 L1616.0 862.2 L1618.0 862.2 L1620.0 862.7 L1622.0 862.2 L1624.0 862.6 L1626.0 862.7 L1628.0 862.0 L1630.0 862.8 L1632.0 863.4 L1634.0 862.9 L1636.0 862.9 L1638.0 863.2 L1640.0 863.0 L1642.0 863.0 L1644.0 863.4 L1646.0 864.2 L1648.0 865.2 L1650.0 864.9 L1652.0 865.1 L1654.0 866.5 L1656.0 868.0 L1658.0 869.5 L1660.0 870.4 L1662.0 870.5 L1664.0 871.1 L1666.0 872.4 L1668.0 873.9 L1670.0 874.6 L1672.0 874.2 L1674.0 875.0 L1676.0 877.6 L1678.0 878.7 L1680.0 878.7 L1682.0 878.9 L1684.0 878.9 L1686.0 879.2 L1688.0 880.2 L1690.0 881.0 L1692.0 881.1 L1694.0 881.4 L1696.0 882.7 L1698.0 883.7 L1700.0 883.9 L1702.0 883.5 L1704.0 883.2 L1706.0 884.1 L1708.0 884.6 L1710.0 884.0 L1712.0 884.3 L1714.0 885.3 L1716.0 885.8 L1718.0 886.1 L1720.0 886.4 L1722.0 886.6 L1724.0 886.0 L1726.0 885.4 L1728.0 885.8 L1730.0 886.4 L1732.0 886.5 L1734.0 886.0 L1736.0 885.9 L1738.0 886.6 L1740.0 886.9 L1742.0 886.6 L1744.0 886.3 L1746.0 885.9 L1748.0 885.7 L1750.0 885.5 L1752.0 884.9 L1754.0 884.4 L1756.0 884.9 L1758.0 885.5 L1760.0 884.5 L1762.0 883.4 L1764.0 883.3 L1766.0 883.5 L1768.0 883.4 L1770.0 882.4 L1772.0 882.2 L1774.0 882.9 L1776.0 883.1 L1778.0 883.8 L1780.0 884.8 L1782.0 885.8 L1784.0 886.2 L1786.0 885.4 L1788.0 884.4 L1790.0 884.0 L1792.0 884.5 L1794.0 884.7 L1796.0 884.5 L1798.0 885.3 L1800.0 886.3 L1802.0 886.6 L1804.0 886.4 L1806.0 886.2 L1808.0 886.1 L1810.0 885.7 L1812.0 885.7 L1814.0 887.0 L1816.0 888.2 L1818.0 888.0 L1820.0 887.4 L1822.0 887.5 L1824.0 888.0 L1826.0 887.9 L1828.0 888.1 L1830.0 887.9 L1832.0 887.6 L1834.0 888.3 L1836.0 888.3 L1838.0 888.2 L1840.0 888.2 L1842.0 887.9 L1844.0 887.8 L1846.0 887.9 L1848.0 887.8 L1850.0 887.6 L1852.0 887.0 L1854.0 886.5 L1856.0 886.8 L1858.0 887.4 L1860.0 888.1 L1862.0 888.1 L1864.0 887.2 L1866.0 887.4" fill="none" stroke="#dc4a5c" stroke-width="3.2" stroke-linejoin="round"/>
<path d="M172.0 568.8 L174.0 567.2 L176.0 566.0 L178.0 564.4 L180.0 564.7 L182.0 566.8 L184.0 568.5 L186.0 569.6 L188.0 571.6 L190.0 574.1 L192.0 574.7 L194.0 575.3 L196.0 577.2 L198.0 577.8 L200.0 578.1 L202.0 579.1 L204.0 579.9 L206.0 580.6 L208.0 581.0 L210.0 581.8 L212.0 583.5 L214.0 584.5 L216.0 584.8 L218.0 586.4 L220.0 588.4 L222.0 589.4 L224.0 590.6 L226.0 592.0 L228.0 592.3 L230.0 592.8 L232.0 594.7 L234.0 596.6 L236.0 597.8 L238.0 598.9 L240.0 599.5 L242.0 600.6 L244.0 601.7 L246.0 602.4 L248.0 604.1 L250.0 605.3 L252.0 605.7 L254.0 606.4 L256.0 606.2 L258.0 606.1 L260.0 607.4 L262.0 608.6 L264.0 610.2 L266.0 614.1 L268.0 617.6 L270.0 617.8 L272.0 617.6 L274.0 618.4 L276.0 618.7 L278.0 618.1 L280.0 618.0 L282.0 618.3 L284.0 618.9 L286.0 620.2 L288.0 622.2 L290.0 624.1 L292.0 625.4 L294.0 626.8 L296.0 628.5 L298.0 629.7 L300.0 630.3 L302.0 631.7 L304.0 633.0 L306.0 633.9 L308.0 634.8 L310.0 636.0 L312.0 636.9 L314.0 637.8 L316.0 639.1 L318.0 639.9 L320.0 640.4 L322.0 641.2 L324.0 641.6 L326.0 641.5 L328.0 641.3 L330.0 640.6 L332.0 640.1 L334.0 641.5 L336.0 642.9 L338.0 642.8 L340.0 643.6 L342.0 644.3 L344.0 644.0 L346.0 644.6 L348.0 644.8 L350.0 644.4 L352.0 644.1 L354.0 642.7 L356.0 641.3 L358.0 641.0 L360.0 640.2 L362.0 639.1 L364.0 639.8 L366.0 641.0 L368.0 640.3 L370.0 639.3 L372.0 639.1 L374.0 638.8 L376.0 637.6 L378.0 635.3 L380.0 632.4 L382.0 629.6 L384.0 627.5 L386.0 626.2 L388.0 624.9 L390.0 623.0 L392.0 620.9 L394.0 618.4 L396.0 615.4 L398.0 613.0 L400.0 610.7 L402.0 608.0 L404.0 606.2 L406.0 604.0 L408.0 599.7 L410.0 594.6 L412.0 588.6 L414.0 582.8 L416.0 578.1 L418.0 574.3 L420.0 571.3 L422.0 567.4 L424.0 562.1 L426.0 557.6 L428.0 553.9 L430.0 549.6 L432.0 545.3 L434.0 541.6 L436.0 536.8 L438.0 530.6 L440.0 524.6 L442.0 520.1 L444.0 518.2 L446.0 518.3 L448.0 517.8 L450.0 517.3 L452.0 517.2 L454.0 516.8 L456.0 516.2 L458.0 516.9 L460.0 518.9 L462.0 519.6 L464.0 520.6 L466.0 522.1 L468.0 522.7 L470.0 526.4 L472.0 533.4 L474.0 539.2 L476.0 543.2 L478.0 546.3 L480.0 549.5 L482.0 553.4 L484.0 556.7 L486.0 559.7 L488.0 564.7 L490.0 570.5 L492.0 575.7 L494.0 581.4 L496.0 587.8 L498.0 593.2 L500.0 598.2 L502.0 602.9 L504.0 607.5 L506.0 612.4 L508.0 616.9 L510.0 621.8 L512.0 627.2 L514.0 632.2 L516.0 636.5 L518.0 641.1 L520.0 645.4 L522.0 647.6 L524.0 649.0 L526.0 651.4 L528.0 654.2 L530.0 656.7 L532.0 659.0 L534.0 661.9 L536.0 665.6 L538.0 667.9 L540.0 669.9 L542.0 672.4 L544.0 675.3 L546.0 678.1 L548.0 679.8 L550.0 679.9 L552.0 679.7 L554.0 681.8 L556.0 684.7 L558.0 685.8 L560.0 685.1 L562.0 685.0 L564.0 686.3 L566.0 686.7 L568.0 686.8 L570.0 688.5 L572.0 690.8 L574.0 692.0 L576.0 691.9 L578.0 692.4 L580.0 693.6 L582.0 693.3 L584.0 692.9 L586.0 693.7 L588.0 695.2 L590.0 696.1 L592.0 696.3 L594.0 696.2 L596.0 696.3 L598.0 695.9 L600.0 695.7 L602.0 696.9 L604.0 697.3 L606.0 696.5 L608.0 696.3 L610.0 696.9 L612.0 697.3 L614.0 696.7 L616.0 695.7 L618.0 694.8 L620.0 694.1 L622.0 694.4 L624.0 694.9 L626.0 694.8 L628.0 695.0 L630.0 695.2 L632.0 695.0 L634.0 694.7 L636.0 694.6 L638.0 694.2 L640.0 693.9 L642.0 693.3 L644.0 692.9 L646.0 693.2 L648.0 693.1 L650.0 693.4 L652.0 693.8 L654.0 693.9 L656.0 693.2 L658.0 692.8 L660.0 693.3 L662.0 692.9 L664.0 691.8 L666.0 691.0 L668.0 690.5 L670.0 689.3 L672.0 687.3 L674.0 685.4 L676.0 684.8 L678.0 685.2 L680.0 685.1 L682.0 683.7 L684.0 682.2 L686.0 681.3 L688.0 679.4 L690.0 677.0 L692.0 674.1 L694.0 671.1 L696.0 669.0 L698.0 666.3 L700.0 662.5 L702.0 659.5 L704.0 658.0 L706.0 656.1 L708.0 652.6 L710.0 649.6 L712.0 647.2 L714.0 643.4 L716.0 640.0 L718.0 637.5 L720.0 634.3 L722.0 630.0 L724.0 625.6 L726.0 621.0 L728.0 616.0 L730.0 610.8 L732.0 606.1 L734.0 601.8 L736.0 597.1 L738.0 592.2 L740.0 586.1 L742.0 579.8 L744.0 575.9 L746.0 573.3 L748.0 569.7 L750.0 566.4 L752.0 564.0 L754.0 560.8 L756.0 557.4 L758.0 555.7 L760.0 555.0 L762.0 555.1 L764.0 556.0 L766.0 556.0 L768.0 556.0 L770.0 557.0 L772.0 557.9 L774.0 558.7 L776.0 559.7 L778.0 560.7 L780.0 562.6 L782.0 564.9 L784.0 567.5 L786.0 572.5 L788.0 578.3 L790.0 583.0 L792.0 587.8 L794.0 594.2 L796.0 600.7 L798.0 606.2 L800.0 612.7 L802.0 619.1 L804.0 624.2 L806.0 628.3 L808.0 632.6 L810.0 636.9 L812.0 639.9 L814.0 642.9 L816.0 646.4 L818.0 649.6 L820.0 653.7 L822.0 658.7 L824.0 663.4 L826.0 667.9 L828.0 671.9 L830.0 675.5 L832.0 678.7 L834.0 681.6 L836.0 684.0 L838.0 685.4 L840.0 687.3 L842.0 689.0 L844.0 689.8 L846.0 690.8 L848.0 691.6 L850.0 691.8 L852.0 692.9 L854.0 694.4 L856.0 695.5 L858.0 696.9 L860.0 697.5 L862.0 697.7 L864.0 698.2 L866.0 698.2 L868.0 697.8 L870.0 697.6 L872.0 698.1 L874.0 699.0 L876.0 699.5 L878.0 699.3 L880.0 698.6 L882.0 697.4 L884.0 697.0 L886.0 697.6 L888.0 697.4 L890.0 696.1 L892.0 695.6 L894.0 694.8 L896.0 693.4 L898.0 692.4 L900.0 690.6 L902.0 688.5 L904.0 687.7 L906.0 687.3 L908.0 686.4 L910.0 685.0 L912.0 683.7 L914.0 683.0 L916.0 682.9 L918.0 683.1 L920.0 683.5 L922.0 683.3 L924.0 682.7 L926.0 682.3 L928.0 682.1 L930.0 682.5 L932.0 682.0 L934.0 680.6 L936.0 681.0 L938.0 682.3 L940.0 682.3 L942.0 681.6 L944.0 681.9 L946.0 682.3 L948.0 681.2 L950.0 680.4 L952.0 681.2 L954.0 682.9 L956.0 684.8 L958.0 687.1 L960.0 689.7 L962.0 691.0 L964.0 691.7 L966.0 692.8 L968.0 694.1 L970.0 696.3 L972.0 697.9 L974.0 698.5 L976.0 699.0 L978.0 699.6 L980.0 701.4 L982.0 702.9 L984.0 703.0 L986.0 704.5 L988.0 705.4 L990.0 704.6 L992.0 705.0 L994.0 707.1 L996.0 709.0 L998.0 709.7 L1000.0 710.6 L1002.0 711.9 L1004.0 712.8 L1006.0 713.3 L1008.0 714.3 L1010.0 715.3 L1012.0 716.0 L1014.0 717.0 L1016.0 717.1 L1018.0 717.2 L1020.0 718.5 L1022.0 718.6 L1024.0 718.2 L1026.0 718.9 L1028.0 719.3 L1030.0 720.2 L1032.0 721.4 L1034.0 721.8 L1036.0 722.5 L1038.0 723.8 L1040.0 725.0 L1042.0 724.7 L1044.0 724.0 L1046.0 724.4 L1048.0 725.4 L1050.0 726.6 L1052.0 727.6 L1054.0 728.3 L1056.0 728.4 L1058.0 728.5 L1060.0 728.8 L1062.0 729.0 L1064.0 729.5 L1066.0 730.2 L1068.0 730.2 L1070.0 729.2 L1072.0 728.4 L1074.0 729.1 L1076.0 729.3 L1078.0 728.7 L1080.0 729.4 L1082.0 730.4 L1084.0 730.0 L1086.0 730.3 L1088.0 731.9 L1090.0 732.1 L1092.0 731.5 L1094.0 732.1 L1096.0 731.8 L1098.0 731.5 L1100.0 732.0 L1102.0 731.1 L1104.0 730.2 L1106.0 730.2 L1108.0 730.1 L1110.0 729.9 L1112.0 730.4 L1114.0 731.1 L1116.0 730.6 L1118.0 730.4 L1120.0 730.4 L1122.0 729.8 L1124.0 729.7 L1126.0 729.5 L1128.0 729.2 L1130.0 729.2 L1132.0 729.0 L1134.0 728.5 L1136.0 727.9 L1138.0 728.0 L1140.0 728.4 L1142.0 728.0 L1144.0 727.2 L1146.0 727.1 L1148.0 727.5 L1150.0 728.1 L1152.0 728.7 L1154.0 728.9 L1156.0 729.1 L1158.0 729.4 L1160.0 728.9 L1162.0 729.0 L1164.0 730.5 L1166.0 731.2 L1168.0 731.6 L1170.0 732.8 L1172.0 733.7 L1174.0 733.8 L1176.0 734.0 L1178.0 733.8 L1180.0 733.0 L1182.0 733.3 L1184.0 734.5 L1186.0 735.2 L1188.0 735.8 L1190.0 736.1 L1192.0 735.5 L1194.0 734.9 L1196.0 734.7 L1198.0 734.6 L1200.0 734.3 L1202.0 734.7 L1204.0 735.2 L1206.0 734.4 L1208.0 734.6 L1210.0 735.4 L1212.0 735.0 L1214.0 734.5 L1216.0 734.7 L1218.0 734.8 L1220.0 734.8 L1222.0 735.3 L1224.0 735.5 L1226.0 735.9 L1228.0 736.3 L1230.0 736.2 L1232.0 736.4 L1234.0 736.7 L1236.0 737.0 L1238.0 737.3 L1240.0 736.9 L1242.0 736.3 L1244.0 736.0 L1246.0 736.3 L1248.0 737.2 L1250.0 737.9 L1252.0 737.8 L1254.0 737.1 L1256.0 736.4 L1258.0 735.2 L1260.0 734.7 L1262.0 735.4 L1264.0 735.6 L1266.0 735.0 L1268.0 735.3 L1270.0 736.2 L1272.0 735.8 L1274.0 736.0 L1276.0 737.6 L1278.0 737.3 L1280.0 736.5 L1282.0 736.5 L1284.0 736.6 L1286.0 736.5 L1288.0 735.3 L1290.0 734.7 L1292.0 735.3 L1294.0 735.8 L1296.0 736.0 L1298.0 734.9 L1300.0 734.7 L1302.0 735.6 L1304.0 736.2 L1306.0 736.3 L1308.0 736.5 L1310.0 736.6 L1312.0 735.6 L1314.0 735.3 L1316.0 735.5 L1318.0 734.9 L1320.0 734.4 L1322.0 734.2 L1324.0 733.9 L1326.0 733.7 L1328.0 733.5 L1330.0 733.7 L1332.0 733.9 L1334.0 734.4 L1336.0 736.0 L1338.0 736.7 L1340.0 735.8 L1342.0 734.6 L1344.0 734.5 L1346.0 735.2 L1348.0 735.2 L1350.0 734.7 L1352.0 734.6 L1354.0 734.7 L1356.0 734.3 L1358.0 733.7 L1360.0 733.1 L1362.0 733.5 L1364.0 734.2 L1366.0 733.9 L1368.0 733.9 L1370.0 734.1 L1372.0 734.1 L1374.0 733.1 L1376.0 731.7 L1378.0 732.0 L1380.0 731.8 L1382.0 730.1 L1384.0 729.8 L1386.0 730.1 L1388.0 729.3 L1390.0 728.9 L1392.0 729.0 L1394.0 728.5 L1396.0 727.7 L1398.0 726.9 L1400.0 726.9 L1402.0 727.0 L1404.0 725.5 L1406.0 724.1 L1408.0 724.5 L1410.0 724.3 L1412.0 724.0 L1414.0 724.0 L1416.0 723.6 L1418.0 723.9 L1420.0 723.9 L1422.0 723.5 L1424.0 722.0 L1426.0 720.1 L1428.0 719.5 L1430.0 718.8 L1432.0 717.7 L1434.0 716.1 L1436.0 714.1 L1438.0 713.3 L1440.0 712.6 L1442.0 710.9 L1444.0 709.3 L1446.0 708.7 L1448.0 708.9 L1450.0 708.0 L1452.0 705.7 L1454.0 704.4 L1456.0 703.6 L1458.0 701.6 L1460.0 699.7 L1462.0 697.2 L1464.0 694.5 L1466.0 692.7 L1468.0 690.0 L1470.0 686.8 L1472.0 682.1 L1474.0 676.2 L1476.0 671.4 L1478.0 667.1 L1480.0 661.9 L1482.0 658.0 L1484.0 655.0 L1486.0 650.9 L1488.0 646.7 L1490.0 643.1 L1492.0 639.5 L1494.0 636.2 L1496.0 633.6 L1498.0 630.5 L1500.0 626.2 L1502.0 622.4 L1504.0 619.7 L1506.0 616.9 L1508.0 615.0 L1510.0 614.5 L1512.0 612.9 L1514.0 609.4 L1516.0 606.5 L1518.0 604.4 L1520.0 601.7 L1522.0 600.6 L1524.0 600.4 L1526.0 598.5 L1528.0 596.1 L1530.0 596.2 L1532.0 598.1 L1534.0 599.4 L1536.0 600.6 L1538.0 602.6 L1540.0 603.7 L1542.0 605.2 L1544.0 608.3 L1546.0 610.7 L1548.0 612.7 L1550.0 615.9 L1552.0 619.6 L1554.0 623.1 L1556.0 626.4 L1558.0 630.0 L1560.0 633.5 L1562.0 636.5 L1564.0 639.0 L1566.0 641.9 L1568.0 646.0 L1570.0 651.4 L1572.0 655.0 L1574.0 655.8 L1576.0 657.5 L1578.0 660.9 L1580.0 663.3 L1582.0 665.2 L1584.0 667.0 L1586.0 669.0 L1588.0 672.2 L1590.0 676.5 L1592.0 679.7 L1594.0 681.6 L1596.0 683.8 L1598.0 686.6 L1600.0 688.6 L1602.0 688.8 L1604.0 688.7 L1606.0 689.7 L1608.0 690.4 L1610.0 689.7 L1612.0 689.7 L1614.0 690.9 L1616.0 691.7 L1618.0 691.9 L1620.0 691.3 L1622.0 690.6 L1624.0 690.2 L1626.0 689.8 L1628.0 689.6 L1630.0 689.8 L1632.0 690.3 L1634.0 690.5 L1636.0 689.8 L1638.0 689.6 L1640.0 690.4 L1642.0 691.7 L1644.0 692.3 L1646.0 693.0 L1648.0 694.6 L1650.0 695.8 L1652.0 697.3 L1654.0 699.5 L1656.0 701.2 L1658.0 702.4 L1660.0 703.1 L1662.0 703.2 L1664.0 703.0 L1666.0 703.3 L1668.0 704.5 L1670.0 705.5 L1672.0 706.1 L1674.0 706.4 L1676.0 706.4 L1678.0 707.3 L1680.0 709.4 L1682.0 710.9 L1684.0 711.3 L1686.0 712.6 L1688.0 713.8 L1690.0 713.8 L1692.0 714.1 L1694.0 715.5 L1696.0 717.4 L1698.0 718.3 L1700.0 718.1 L1702.0 718.5 L1704.0 720.2 L1706.0 721.7 L1708.0 721.7 L1710.0 722.0 L1712.0 722.5 L1714.0 722.5 L1716.0 723.3 L1718.0 724.0 L1720.0 723.6 L1722.0 723.9 L1724.0 724.7 L1726.0 725.0 L1728.0 725.2 L1730.0 725.6 L1732.0 725.4 L1734.0 724.8 L1736.0 724.9 L1738.0 725.9 L1740.0 726.6 L1742.0 726.2 L1744.0 725.3 L1746.0 725.5 L1748.0 725.5 L1750.0 724.8 L1752.0 724.8 L1754.0 725.3 L1756.0 724.9 L1758.0 723.7 L1760.0 723.4 L1762.0 723.3 L1764.0 723.2 L1766.0 723.8 L1768.0 723.2 L1770.0 722.0 L1772.0 721.8 L1774.0 721.6 L1776.0 721.2 L1778.0 721.6 L1780.0 721.6 L1782.0 721.4 L1784.0 721.8 L1786.0 722.1 L1788.0 721.2 L1790.0 720.9 L1792.0 721.3 L1794.0 720.5 L1796.0 719.5 L1798.0 719.8 L1800.0 721.1 L1802.0 721.6 L1804.0 721.7 L1806.0 721.8 L1808.0 721.7 L1810.0 721.6 L1812.0 722.2 L1814.0 723.3 L1816.0 724.4 L1818.0 724.8 L1820.0 724.2 L1822.0 723.7 L1824.0 724.4 L1826.0 725.0 L1828.0 724.9 L1830.0 725.7 L1832.0 726.3 L1834.0 725.9 L1836.0 725.1 L1838.0 724.2 L1840.0 724.1 L1842.0 724.5 L1844.0 725.4 L1846.0 725.8 L1848.0 725.9 L1850.0 726.8 L1852.0 727.0 L1854.0 726.6 L1856.0 726.4 L1858.0 726.6 L1860.0 728.3 L1862.0 729.7 L1864.0 729.5 L1866.0 729.7" fill="none" stroke="#3f74c8" stroke-width="3.2" stroke-linejoin="round"/>
<path d="M172.0 405.0 L174.0 406.7 L176.0 407.6 L178.0 407.3 L180.0 407.0 L182.0 408.0 L184.0 408.8 L186.0 408.2 L188.0 407.4 L190.0 405.8 L192.0 404.6 L194.0 405.1 L196.0 405.1 L198.0 404.6 L200.0 405.7 L202.0 407.8 L204.0 410.0 L206.0 412.3 L208.0 413.4 L210.0 414.6 L212.0 417.1 L214.0 418.7 L216.0 419.1 L218.0 419.4 L220.0 419.3 L222.0 419.5 L224.0 419.6 L226.0 418.4 L228.0 417.1 L230.0 418.3 L232.0 425.8 L234.0 432.5 L236.0 433.1 L238.0 433.5 L240.0 434.0 L242.0 434.2 L244.0 434.0 L246.0 434.0 L248.0 435.3 L250.0 437.3 L252.0 438.8 L254.0 440.1 L256.0 442.0 L258.0 443.9 L260.0 445.8 L262.0 446.6 L264.0 446.1 L266.0 444.7 L268.0 443.7 L270.0 444.6 L272.0 447.0 L274.0 449.9 L276.0 452.0 L278.0 453.3 L280.0 455.4 L282.0 456.6 L284.0 457.2 L286.0 458.8 L288.0 459.4 L290.0 458.5 L292.0 459.1 L294.0 460.7 L296.0 462.3 L298.0 464.0 L300.0 466.0 L302.0 468.1 L304.0 469.3 L306.0 469.9 L308.0 470.7 L310.0 471.7 L312.0 472.9 L314.0 474.0 L316.0 474.8 L318.0 475.2 L320.0 475.6 L322.0 477.4 L324.0 478.9 L326.0 478.4 L328.0 478.3 L330.0 479.5 L332.0 478.9 L334.0 477.9 L336.0 479.4 L338.0 481.0 L340.0 481.6 L342.0 482.1 L344.0 481.9 L346.0 480.8 L348.0 479.5 L350.0 479.4 L352.0 480.0 L354.0 479.5 L356.0 477.9 L358.0 477.4 L360.0 477.1 L362.0 476.0 L364.0 476.0 L366.0 477.7 L368.0 478.9 L370.0 478.5 L372.0 478.1 L374.0 478.5 L376.0 477.1 L378.0 474.6 L380.0 472.0 L382.0 469.9 L384.0 467.9 L386.0 465.7 L388.0 464.4 L390.0 462.9 L392.0 460.8 L394.0 458.5 L396.0 455.9 L398.0 453.9 L400.0 451.4 L402.0 448.3 L404.0 445.8 L406.0 442.8 L408.0 439.5 L410.0 436.5 L412.0 432.9 L414.0 428.4 L416.0 423.8 L418.0 419.5 L420.0 416.4 L422.0 413.4 L424.0 409.4 L426.0 404.7 L428.0 399.8 L430.0 395.2 L432.0 390.9 L434.0 386.2 L436.0 382.6 L438.0 379.9 L440.0 377.2 L442.0 374.2 L444.0 370.5 L446.0 367.5 L448.0 365.4 L450.0 364.2 L452.0 364.1 L454.0 365.0 L456.0 366.4 L458.0 368.1 L460.0 370.7 L462.0 372.7 L464.0 374.2 L466.0 376.5 L468.0 379.0 L470.0 382.2 L472.0 385.9 L474.0 388.3 L476.0 391.4 L478.0 394.8 L480.0 397.8 L482.0 401.5 L484.0 405.1 L486.0 407.5 L488.0 412.4 L490.0 419.3 L492.0 425.1 L494.0 431.4 L496.0 437.8 L498.0 442.8 L500.0 447.8 L502.0 452.4 L504.0 456.2 L506.0 461.0 L508.0 466.5 L510.0 470.7 L512.0 474.0 L514.0 477.7 L516.0 481.4 L518.0 484.9 L520.0 488.3 L522.0 491.2 L524.0 493.4 L526.0 495.3 L528.0 498.4 L530.0 501.8 L532.0 504.7 L534.0 507.9 L536.0 510.1 L538.0 511.7 L540.0 513.3 L542.0 513.9 L544.0 514.6 L546.0 516.6 L548.0 520.4 L550.0 523.5 L552.0 524.4 L554.0 525.9 L556.0 528.3 L558.0 530.1 L560.0 530.3 L562.0 530.9 L564.0 532.9 L566.0 533.7 L568.0 533.8 L570.0 533.8 L572.0 534.1 L574.0 535.3 L576.0 536.6 L578.0 536.8 L580.0 536.5 L582.0 536.8 L584.0 537.1 L586.0 537.7 L588.0 538.7 L590.0 539.3 L592.0 539.6 L594.0 540.3 L596.0 541.3 L598.0 541.5 L600.0 541.9 L602.0 542.5 L604.0 542.3 L606.0 542.1 L608.0 542.3 L610.0 541.5 L612.0 540.8 L614.0 541.6 L616.0 541.0 L618.0 539.9 L620.0 541.0 L622.0 542.1 L624.0 541.0 L626.0 539.5 L628.0 539.9 L630.0 540.3 L632.0 539.5 L634.0 539.3 L636.0 540.6 L638.0 541.8 L640.0 542.3 L642.0 542.6 L644.0 542.3 L646.0 542.2 L648.0 542.9 L650.0 541.7 L652.0 539.9 L654.0 539.5 L656.0 538.8 L658.0 537.3 L660.0 536.8 L662.0 536.2 L664.0 535.2 L666.0 534.4 L668.0 533.9 L670.0 533.2 L672.0 532.4 L674.0 531.6 L676.0 530.4 L678.0 529.5 L680.0 528.1 L682.0 526.5 L684.0 526.1 L686.0 525.8 L688.0 523.6 L690.0 521.4 L692.0 520.8 L694.0 519.9 L696.0 518.1 L698.0 516.6 L700.0 515.8 L702.0 514.7 L704.0 511.7 L706.0 507.6 L708.0 503.7 L710.0 500.3 L712.0 497.6 L714.0 493.8 L716.0 488.2 L718.0 483.1 L720.0 478.3 L722.0 473.7 L724.0 470.1 L726.0 465.9 L728.0 460.9 L730.0 457.4 L732.0 454.7 L734.0 450.9 L736.0 446.0 L738.0 440.8 L740.0 436.0 L742.0 431.6 L744.0 426.6 L746.0 422.4 L748.0 419.5 L750.0 415.9 L752.0 412.1 L754.0 409.9 L756.0 408.0 L758.0 406.4 L760.0 406.0 L762.0 406.1 L764.0 406.3 L766.0 405.9 L768.0 405.1 L770.0 406.1 L772.0 408.4 L774.0 410.0 L776.0 411.4 L778.0 413.5 L780.0 415.5 L782.0 417.6 L784.0 420.6 L786.0 423.9 L788.0 428.0 L790.0 432.3 L792.0 436.3 L794.0 441.7 L796.0 447.4 L798.0 452.5 L800.0 457.1 L802.0 461.1 L804.0 465.8 L806.0 471.3 L808.0 475.9 L810.0 479.2 L812.0 483.9 L814.0 490.2 L816.0 495.0 L818.0 498.2 L820.0 501.7 L822.0 506.1 L824.0 510.8 L826.0 515.5 L828.0 520.1 L830.0 523.0 L832.0 524.5 L834.0 525.7 L836.0 527.1 L838.0 529.1 L840.0 531.2 L842.0 532.8 L844.0 534.7 L846.0 537.4 L848.0 540.6 L850.0 543.1 L852.0 543.8 L854.0 543.4 L856.0 544.2 L858.0 544.8 L860.0 544.2 L862.0 543.8 L864.0 544.0 L866.0 544.3 L868.0 544.1 L870.0 543.6 L872.0 544.2 L874.0 545.4 L876.0 546.1 L878.0 546.3 L880.0 546.1 L882.0 545.4 L884.0 545.4 L886.0 545.2 L888.0 544.1 L890.0 542.9 L892.0 541.8 L894.0 541.2 L896.0 540.4 L898.0 539.4 L900.0 538.3 L902.0 536.4 L904.0 534.5 L906.0 533.1 L908.0 532.7 L910.0 532.7 L912.0 531.9 L914.0 530.9 L916.0 530.1 L918.0 529.8 L920.0 529.9 L922.0 529.6 L924.0 529.4 L926.0 529.9 L928.0 530.2 L930.0 529.3 L932.0 528.6 L934.0 529.3 L936.0 530.9 L938.0 531.2 L940.0 530.8 L942.0 530.6 L944.0 530.6 L946.0 531.2 L948.0 532.1 L950.0 532.4 L952.0 532.4 L954.0 533.2 L956.0 534.7 L958.0 534.9 L960.0 534.7 L962.0 536.5 L964.0 538.2 L966.0 538.5 L968.0 538.9 L970.0 539.9 L972.0 541.3 L974.0 542.0 L976.0 542.9 L978.0 545.5 L980.0 547.8 L982.0 547.7 L984.0 548.0 L986.0 549.9 L988.0 551.8 L990.0 552.7 L992.0 552.2 L994.0 552.5 L996.0 554.4 L998.0 556.1 L1000.0 557.5 L1002.0 558.0 L1004.0 557.7 L1006.0 558.4 L1008.0 560.2 L1010.0 561.7 L1012.0 562.3 L1014.0 562.3 L1016.0 563.0 L1018.0 564.8 L1020.0 566.9 L1022.0 567.9 L1024.0 568.1 L1026.0 568.2 L1028.0 567.9 L1030.0 568.1 L1032.0 568.8 L1034.0 569.2 L1036.0 569.5 L1038.0 570.1 L1040.0 570.7 L1042.0 571.3 L1044.0 571.9 L1046.0 572.0 L1048.0 572.5 L1050.0 573.4 L1052.0 573.3 L1054.0 573.0 L1056.0 573.1 L1058.0 573.5 L1060.0 573.6 L1062.0 573.8 L1064.0 574.9 L1066.0 575.9 L1068.0 575.4 L1070.0 574.1 L1072.0 573.4 L1074.0 574.1 L1076.0 575.1 L1078.0 575.5 L1080.0 575.1 L1082.0 575.3 L1084.0 575.8 L1086.0 575.6 L1088.0 576.0 L1090.0 575.8 L1092.0 574.9 L1094.0 575.0 L1096.0 574.9 L1098.0 574.2 L1100.0 573.7 L1102.0 574.4 L1104.0 575.7 L1106.0 576.4 L1108.0 576.5 L1110.0 576.5 L1112.0 577.0 L1114.0 577.3 L1116.0 576.8 L1118.0 577.3 L1120.0 578.7 L1122.0 579.0 L1124.0 578.5 L1126.0 578.9 L1128.0 579.9 L1130.0 579.9 L1132.0 578.9 L1134.0 579.3 L1136.0 579.9 L1138.0 579.4 L1140.0 578.2 L1142.0 577.3 L1144.0 577.9 L1146.0 577.6 L1148.0 576.8 L1150.0 577.9 L1152.0 579.0 L1154.0 579.4 L1156.0 579.3 L1158.0 578.7 L1160.0 578.4 L1162.0 579.0 L1164.0 580.0 L1166.0 580.6 L1168.0 580.9 L1170.0 581.7 L1172.0 582.6 L1174.0 583.5 L1176.0 584.8 L1178.0 584.4 L1180.0 582.5 L1182.0 581.6 L1184.0 581.4 L1186.0 581.9 L1188.0 582.5 L1190.0 582.1 L1192.0 581.9 L1194.0 582.7 L1196.0 583.3 L1198.0 582.9 L1200.0 582.9 L1202.0 583.6 L1204.0 583.7 L1206.0 583.8 L1208.0 583.5 L1210.0 582.8 L1212.0 582.7 L1214.0 583.1 L1216.0 583.8 L1218.0 583.7 L1220.0 583.2 L1222.0 583.4 L1224.0 583.3 L1226.0 583.8 L1228.0 583.7 L1230.0 582.8 L1232.0 582.8 L1234.0 583.5 L1236.0 583.9 L1238.0 584.1 L1240.0 584.2 L1242.0 583.9 L1244.0 584.2 L1246.0 584.1 L1248.0 583.4 L1250.0 583.4 L1252.0 582.4 L1254.0 581.3 L1256.0 581.8 L1258.0 582.6 L1260.0 582.6 L1262.0 582.5 L1264.0 583.1 L1266.0 583.6 L1268.0 583.5 L1270.0 583.4 L1272.0 582.8 L1274.0 582.5 L1276.0 583.3 L1278.0 584.0 L1280.0 583.7 L1282.0 582.9 L1284.0 582.8 L1286.0 583.8 L1288.0 583.8 L1290.0 583.1 L1292.0 583.6 L1294.0 584.1 L1296.0 584.0 L1298.0 584.1 L1300.0 583.6 L1302.0 582.4 L1304.0 582.6 L1306.0 583.4 L1308.0 584.0 L1310.0 583.2 L1312.0 581.7 L1314.0 581.9 L1316.0 583.0 L1318.0 583.6 L1320.0 583.1 L1322.0 581.6 L1324.0 580.8 L1326.0 581.0 L1328.0 581.1 L1330.0 581.0 L1332.0 581.7 L1334.0 582.0 L1336.0 580.7 L1338.0 579.2 L1340.0 579.6 L1342.0 580.1 L1344.0 579.4 L1346.0 579.4 L1348.0 580.0 L1350.0 580.4 L1352.0 580.2 L1354.0 579.7 L1356.0 579.3 L1358.0 579.2 L1360.0 579.4 L1362.0 579.5 L1364.0 579.5 L1366.0 579.0 L1368.0 578.5 L1370.0 578.9 L1372.0 579.2 L1374.0 579.0 L1376.0 578.8 L1378.0 578.9 L1380.0 578.4 L1382.0 577.0 L1384.0 576.2 L1386.0 575.8 L1388.0 574.8 L1390.0 573.8 L1392.0 573.7 L1394.0 573.7 L1396.0 573.3 L1398.0 572.8 L1400.0 572.9 L1402.0 573.9 L1404.0 574.6 L1406.0 574.1 L1408.0 572.6 L1410.0 571.8 L1412.0 571.8 L1414.0 571.4 L1416.0 571.3 L1418.0 571.0 L1420.0 570.5 L1422.0 570.2 L1424.0 570.0 L1426.0 569.8 L1428.0 568.0 L1430.0 566.1 L1432.0 565.1 L1434.0 563.7 L1436.0 562.2 L1438.0 560.6 L1440.0 559.7 L1442.0 558.9 L1444.0 556.7 L1446.0 554.2 L1448.0 552.5 L1450.0 551.3 L1452.0 549.8 L1454.0 546.7 L1456.0 544.4 L1458.0 542.7 L1460.0 540.2 L1462.0 538.5 L1464.0 537.2 L1466.0 534.6 L1468.0 531.6 L1470.0 529.0 L1472.0 526.8 L1474.0 524.9 L1476.0 523.3 L1478.0 521.1 L1480.0 517.1 L1482.0 511.8 L1484.0 507.3 L1486.0 503.0 L1488.0 498.3 L1490.0 494.8 L1492.0 491.7 L1494.0 488.0 L1496.0 484.8 L1498.0 481.5 L1500.0 476.8 L1502.0 471.6 L1504.0 466.8 L1506.0 462.1 L1508.0 459.2 L1510.0 457.7 L1512.0 455.7 L1514.0 453.7 L1516.0 452.3 L1518.0 451.2 L1520.0 451.1 L1522.0 451.7 L1524.0 451.3 L1526.0 450.9 L1528.0 450.8 L1530.0 450.5 L1532.0 450.8 L1534.0 451.1 L1536.0 451.6 L1538.0 452.6 L1540.0 453.5 L1542.0 454.8 L1544.0 456.5 L1546.0 459.2 L1548.0 462.2 L1550.0 464.0 L1552.0 465.6 L1554.0 468.0 L1556.0 470.4 L1558.0 472.7 L1560.0 475.8 L1562.0 479.9 L1564.0 483.2 L1566.0 486.5 L1568.0 491.7 L1570.0 497.0 L1572.0 500.3 L1574.0 502.5 L1576.0 504.3 L1578.0 505.4 L1580.0 507.3 L1582.0 508.7 L1584.0 509.3 L1586.0 512.2 L1588.0 515.9 L1590.0 518.6 L1592.0 521.1 L1594.0 523.3 L1596.0 525.5 L1598.0 528.6 L1600.0 531.2 L1602.0 532.3 L1604.0 533.1 L1606.0 533.7 L1608.0 534.1 L1610.0 534.1 L1612.0 533.9 L1614.0 533.3 L1616.0 531.9 L1618.0 531.6 L1620.0 533.5 L1622.0 534.3 L1624.0 533.2 L1626.0 533.5 L1628.0 535.0 L1630.0 536.1 L1632.0 537.0 L1634.0 537.5 L1636.0 537.8 L1638.0 539.2 L1640.0 541.3 L1642.0 543.4 L1644.0 545.0 L1646.0 545.0 L1648.0 543.9 L1650.0 542.8 L1652.0 541.9 L1654.0 541.2 L1656.0 540.8 L1658.0 540.7 L1660.0 542.6 L1662.0 545.2 L1664.0 546.7 L1666.0 547.4 L1668.0 548.5 L1670.0 550.7 L1672.0 551.8 L1674.0 552.3 L1676.0 553.3 L1678.0 554.7 L1680.0 556.0 L1682.0 556.1 L1684.0 556.1 L1686.0 558.1 L1688.0 560.5 L1690.0 561.6 L1692.0 562.4 L1694.0 563.7 L1696.0 565.0 L1698.0 565.3 L1700.0 565.1 L1702.0 566.1 L1704.0 567.8 L1706.0 568.6 L1708.0 569.9 L1710.0 570.9 L1712.0 570.7 L1714.0 570.4 L1716.0 570.2 L1718.0 570.1 L1720.0 570.0 L1722.0 569.1 L1724.0 569.3 L1726.0 570.8 L1728.0 571.4 L1730.0 571.4 L1732.0 571.1 L1734.0 571.0 L1736.0 571.4 L1738.0 571.0 L1740.0 570.5 L1742.0 570.7 L1744.0 570.5 L1746.0 571.3 L1748.0 572.3 L1750.0 571.9 L1752.0 571.4 L1754.0 570.8 L1756.0 570.4 L1758.0 570.3 L1760.0 569.8 L1762.0 568.8 L1764.0 568.6 L1766.0 568.5 L1768.0 567.8 L1770.0 567.9 L1772.0 568.5 L1774.0 567.9 L1776.0 567.1 L1778.0 567.1 L1780.0 567.6 L1782.0 567.8 L1784.0 567.8 L1786.0 568.4 L1788.0 569.1 L1790.0 568.1 L1792.0 567.4 L1794.0 568.5 L1796.0 569.6 L1798.0 569.6 L1800.0 569.8 L1802.0 571.0 L1804.0 571.6 L1806.0 571.0 L1808.0 571.0 L1810.0 571.8 L1812.0 572.6 L1814.0 572.7 L1816.0 571.7 L1818.0 570.8 L1820.0 570.8 L1822.0 570.8 L1824.0 570.6 L1826.0 570.2 L1828.0 570.2 L1830.0 570.6 L1832.0 571.0 L1834.0 571.6 L1836.0 572.5 L1838.0 573.9 L1840.0 575.2 L1842.0 576.2 L1844.0 576.2 L1846.0 575.7 L1848.0 576.9 L1850.0 578.1 L1852.0 578.0 L1854.0 577.7 L1856.0 577.4 L1858.0 576.4 L1860.0 576.1 L1862.0 577.1 L1864.0 577.5 L1866.0 576.9" fill="none" stroke="#52a57f" stroke-width="3.2" stroke-linejoin="round"/>
<line x1="451.8" y1="1057" x2="451.8" y2="1286" stroke="#85151f" stroke-width="5"/>
<line x1="759.2" y1="1114" x2="759.2" y2="1286" stroke="#85151f" stroke-width="5"/>
<line x1="931.9" y1="1237.3" x2="931.9" y2="1286" stroke="#85151f" stroke-width="5"/>
<line x1="975.1" y1="1276.8" x2="975.1" y2="1286" stroke="#85151f" stroke-width="5"/>
<line x1="1518.2" y1="1155.9" x2="1518.2" y2="1286" stroke="#85151f" stroke-width="5"/>
<line x1="1644.9" y1="1254.1" x2="1644.9" y2="1286" stroke="#85151f" stroke-width="5"/>
<line x1="1773.8" y1="1271.4" x2="1773.8" y2="1286" stroke="#85151f" stroke-width="5"/>
<line x1="171" y1="256.5" x2="171" y2="1307" stroke="#111" stroke-width="4"/>
<line x1="169" y1="1286" x2="1869" y2="1286" stroke="#111" stroke-width="4"/>
<line x1="171.0" y1="1286" x2="171.0" y2="1307" stroke="#111" stroke-width="3.6"/>
<line x1="213.4" y1="1286" x2="213.4" y2="1296" stroke="#111" stroke-width="3.6"/>
<line x1="255.8" y1="1286" x2="255.8" y2="1296" stroke="#111" stroke-width="3.6"/>
<line x1="298.2" y1="1286" x2="298.2" y2="1296" stroke="#111" stroke-width="3.6"/>
<line x1="340.6" y1="1286" x2="340.6" y2="1296" stroke="#111" stroke-width="3.6"/>
<line x1="383.0" y1="1286" x2="383.0" y2="1307" stroke="#111" stroke-width="3.6"/>
<line x1="425.4" y1="1286" x2="425.4" y2="1296" stroke="#111" stroke-width="3.6"/>
<line x1="467.8" y1="1286" x2="467.8" y2="1296" stroke="#111" stroke-width="3.6"/>
<line x1="510.2" y1="1286" x2="510.2" y2="1296" stroke="#111" stroke-width="3.6"/>
<line x1="552.6" y1="1286" x2="552.6" y2="1296" stroke="#111" stroke-width="3.6"/>
<line x1="595.0" y1="1286" x2="595.0" y2="1307" stroke="#111" stroke-width="3.6"/>
<line x1="637.4" y1="1286" x2="637.4" y2="1296" stroke="#111" stroke-width="3.6"/>
<line x1="679.8" y1="1286" x2="679.8" y2="1296" stroke="#111" stroke-width="3.6"/>
<line x1="722.2" y1="1286" x2="722.2" y2="1296" stroke="#111" stroke-width="3.6"/>
<line x1="764.6" y1="1286" x2="764.6" y2="1296" stroke="#111" stroke-width="3.6"/>
<line x1="807.0" y1="1286" x2="807.0" y2="1307" stroke="#111" stroke-width="3.6"/>
<line x1="849.4" y1="1286" x2="849.4" y2="1296" stroke="#111" stroke-width="3.6"/>
<line x1="891.8" y1="1286" x2="891.8" y2="1296" stroke="#111" stroke-width="3.6"/>
<line x1="934.2" y1="1286" x2="934.2" y2="1296" stroke="#111" stroke-width="3.6"/>
<line x1="976.6" y1="1286" x2="976.6" y2="1296" stroke="#111" stroke-width="3.6"/>
<line x1="1019.0" y1="1286" x2="1019.0" y2="1307" stroke="#111" stroke-width="3.6"/>
<line x1="1061.4" y1="1286" x2="1061.4" y2="1296" stroke="#111" stroke-width="3.6"/>
<line x1="1103.8" y1="1286" x2="1103.8" y2="1296" stroke="#111" stroke-width="3.6"/>
<line x1="1146.2" y1="1286" x2="1146.2" y2="1296" stroke="#111" stroke-width="3.6"/>
<line x1="1188.6" y1="1286" x2="1188.6" y2="1296" stroke="#111" stroke-width="3.6"/>
<line x1="1231.0" y1="1286" x2="1231.0" y2="1307" stroke="#111" stroke-width="3.6"/>
<line x1="1273.4" y1="1286" x2="1273.4" y2="1296" stroke="#111" stroke-width="3.6"/>
<line x1="1315.8" y1="1286" x2="1315.8" y2="1296" stroke="#111" stroke-width="3.6"/>
<line x1="1358.2" y1="1286" x2="1358.2" y2="1296" stroke="#111" stroke-width="3.6"/>
<line x1="1400.6" y1="1286" x2="1400.6" y2="1296" stroke="#111" stroke-width="3.6"/>
<line x1="1443.0" y1="1286" x2="1443.0" y2="1307" stroke="#111" stroke-width="3.6"/>
<line x1="1485.4" y1="1286" x2="1485.4" y2="1296" stroke="#111" stroke-width="3.6"/>
<line x1="1527.8" y1="1286" x2="1527.8" y2="1296" stroke="#111" stroke-width="3.6"/>
<line x1="1570.2" y1="1286" x2="1570.2" y2="1296" stroke="#111" stroke-width="3.6"/>
<line x1="1612.6" y1="1286" x2="1612.6" y2="1296" stroke="#111" stroke-width="3.6"/>
<line x1="1655.0" y1="1286" x2="1655.0" y2="1307" stroke="#111" stroke-width="3.6"/>
<line x1="1697.4" y1="1286" x2="1697.4" y2="1296" stroke="#111" stroke-width="3.6"/>
<line x1="1739.8" y1="1286" x2="1739.8" y2="1296" stroke="#111" stroke-width="3.6"/>
<line x1="1782.2" y1="1286" x2="1782.2" y2="1296" stroke="#111" stroke-width="3.6"/>
<line x1="1824.6" y1="1286" x2="1824.6" y2="1296" stroke="#111" stroke-width="3.6"/>
<line x1="1867.0" y1="1286" x2="1867.0" y2="1307" stroke="#111" stroke-width="3.6"/>
<text x="171.0" y="1358.5" font-size="48.5" text-anchor="middle" class="t">20</text>
<text x="383.0" y="1358.5" font-size="48.5" text-anchor="middle" class="t">25</text>
<text x="595.0" y="1358.5" font-size="48.5" text-anchor="middle" class="t">30</text>
<text x="807.0" y="1358.5" font-size="48.5" text-anchor="middle" class="t">35</text>
<text x="1019.0" y="1358.5" font-size="48.5" text-anchor="middle" class="t">40</text>
<text x="1231.0" y="1358.5" font-size="48.5" text-anchor="middle" class="t">45</text>
<text x="1443.0" y="1358.5" font-size="48.5" text-anchor="middle" class="t">50</text>
<text x="1655.0" y="1358.5" font-size="48.5" text-anchor="middle" class="t">55</text>
<text x="1867.0" y="1358.5" font-size="48.5" text-anchor="middle" class="t">60</text>
<text x="1018" y="1421" font-size="57" text-anchor="middle" class="t">2theta</text>
<text transform="translate(86.5,771.7) rotate(-90)" x="0" y="0" font-size="57.5" text-anchor="middle" class="t">Intensity, a.u.</text>
<line x1="287.4" y1="115.2" x2="401" y2="115.2" stroke="#52a57f" stroke-width="3.0"/>
<text x="413.7" y="131.8" font-size="50.3" class="t">SnO2_Mn10_w</text>
<line x1="825.5" y1="115.0" x2="940" y2="115.0" stroke="#3f74c8" stroke-width="3.0"/>
<text x="952.5" y="131.8" font-size="50.3" class="t">SnO2_Mn1_w</text>
<line x1="1368.5" y1="115.0" x2="1483" y2="115.0" stroke="#dc4a5c" stroke-width="3.0"/>
<text x="1494.4" y="131.8" font-size="50.3" class="t">SnO2_Mn10</text>
<line x1="287" y1="176.6" x2="401" y2="176.6" stroke="#4c4c4c" stroke-width="4.2"/>
<text x="414.5" y="193.5" font-size="50.3" class="t">SnO2-300</text>
<line x1="765.5" y1="176.6" x2="876" y2="176.6" stroke="#7e1426" stroke-width="5.4"/>
<text x="889.8" y="193.5" font-size="50.3" class="t">ICDD 41-1445</text>
<text x="457.3" y="271.5" font-size="48.3" text-anchor="middle" class="t">(110)</text>
<rect x="454.0" y="292" width="5.2" height="23.0" fill="#000"/>
<polygon points="444.6,314 468.6,314 456.6,359" fill="#000"/>
<text x="769.1" y="309.5" font-size="48.3" text-anchor="middle" class="t">(101)</text>
<rect x="764.4" y="336.6" width="5.2" height="22.5" fill="#000"/>
<polygon points="755.0,358.1 779.0,358.1 767.0,402.2" fill="#000"/>
<text x="931.6" y="427.6" font-size="48.3" text-anchor="middle" class="t">(200)</text>
<rect x="931.1" y="453.2" width="5.2" height="24.0" fill="#000"/>
<polygon points="921.7,476.2 945.7,476.2 933.7,522.3" fill="#000"/>
<text x="1529.6" y="359.5" font-size="48.3" text-anchor="middle" class="t">(211)</text>
<rect x="1528.0" y="376.4" width="5.2" height="24.6" fill="#000"/>
<polygon points="1518.6,400 1542.6,400 1530.6,445" fill="#000"/>
<text x="1656.2" y="446" font-size="48.3" text-anchor="middle" class="t">(220)</text>
<rect x="1654.4" y="466.5" width="5.2" height="23.0" fill="#000"/>
<polygon points="1645.0,488.5 1669.0,488.5 1657.0,533" fill="#000"/>
</svg>
</body></html>
